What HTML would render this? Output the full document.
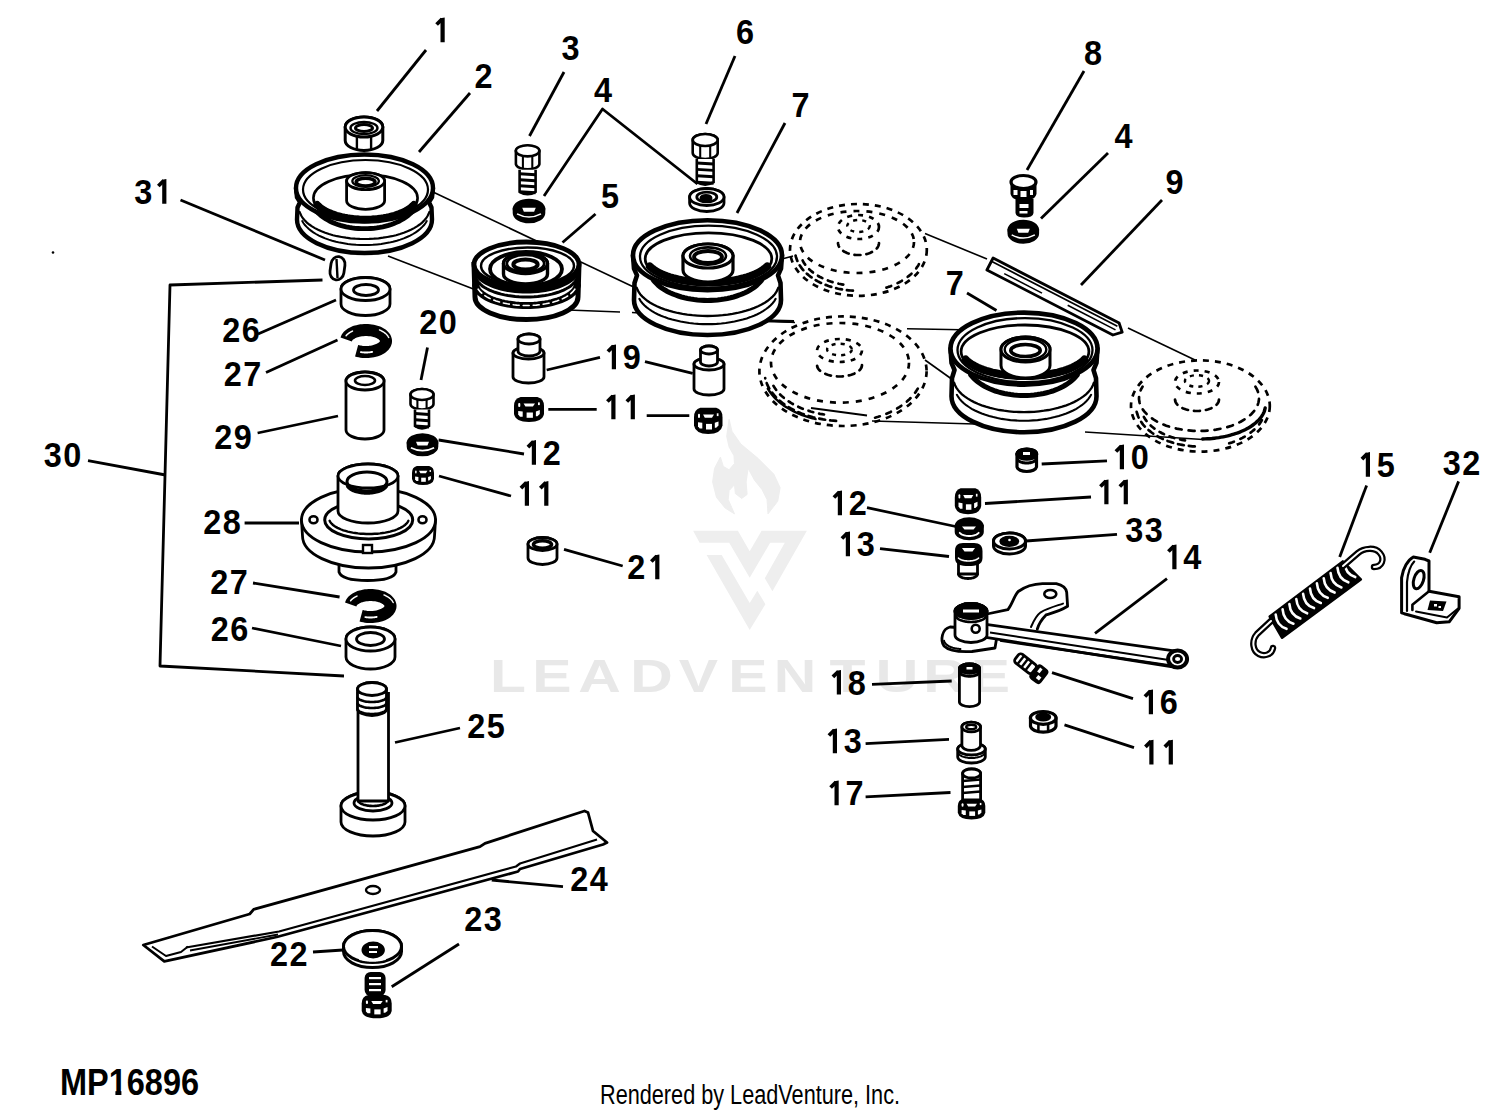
<!DOCTYPE html>
<html><head><meta charset="utf-8"><title>Mower deck parts diagram</title>
<style>
html,body{margin:0;padding:0;background:#fff;}
body{width:1500px;height:1112px;overflow:hidden;}
svg{display:block;font-family:"Liberation Sans",sans-serif;}
</style></head>
<body>
<svg width="1500" height="1112" viewBox="0 0 1500 1112">
<rect width="1500" height="1112" fill="#fff"/>
<text transform="translate(508.0,692.4) scale(1.28,1)" x="0" y="0" font-size="46" font-weight="bold" text-anchor="middle" fill="#e8e8e8">L</text>
<text transform="translate(551.8,692.4) scale(1.28,1)" x="0" y="0" font-size="46" font-weight="bold" text-anchor="middle" fill="#e8e8e8">E</text>
<text transform="translate(599.5,692.4) scale(1.28,1)" x="0" y="0" font-size="46" font-weight="bold" text-anchor="middle" fill="#e8e8e8">A</text>
<text transform="translate(651.6,692.4) scale(1.28,1)" x="0" y="0" font-size="46" font-weight="bold" text-anchor="middle" fill="#e8e8e8">D</text>
<text transform="translate(698.5,692.4) scale(1.28,1)" x="0" y="0" font-size="46" font-weight="bold" text-anchor="middle" fill="#e8e8e8">V</text>
<text transform="translate(748.0,692.4) scale(1.28,1)" x="0" y="0" font-size="46" font-weight="bold" text-anchor="middle" fill="#e8e8e8">E</text>
<text transform="translate(795.0,692.4) scale(1.28,1)" x="0" y="0" font-size="46" font-weight="bold" text-anchor="middle" fill="#e8e8e8">N</text>
<text transform="translate(847.5,692.4) scale(1.28,1)" x="0" y="0" font-size="46" font-weight="bold" text-anchor="middle" fill="#e8e8e8">T</text>
<text transform="translate(897.0,692.4) scale(1.28,1)" x="0" y="0" font-size="46" font-weight="bold" text-anchor="middle" fill="#e8e8e8">U</text>
<text transform="translate(944.5,692.4) scale(1.28,1)" x="0" y="0" font-size="46" font-weight="bold" text-anchor="middle" fill="#e8e8e8">R</text>
<text transform="translate(990.5,692.4) scale(1.28,1)" x="0" y="0" font-size="46" font-weight="bold" text-anchor="middle" fill="#e8e8e8">E</text>
<path d="M729.1,419.3 L732,431.4 L740.8,444 L758.3,458.6 L773.8,474.1 L780.1,487.7 L777.7,501.3 L768,513.9 L767,499.4 L762.1,489.7 L754.4,480 L748.1,468.3 L746.1,481.9 L747.1,494.5 L741.7,498.4 L735.4,493.6 L734.5,484.8 L729.1,490.6 L728.2,499.4 L734.5,513.9 L725.2,508.1 L716.5,497.4 L712.6,481.9 L714.6,468.3 L720.4,457.1 L723.3,466.4 L729.1,469.8 L734.5,463.5 L734,455.7 L729.1,447 L726.7,436.3 Z" fill="#eeeeee" stroke="#eeeeee" stroke-width="1" stroke-linejoin="round"/>
<path d="M693.1,530.8 L737.9,530.8 L749.7,551.3 L761.6,530.8 L806.9,530.8 L772.4,591.2 L764.8,578.3 L784.8,542.7 L770.2,542.7 L749.7,577.7 L729.2,542.7 L699.6,542.7 Z" fill="#eeeeee"/>
<path d="M706.6,555.1 L721.7,555.1 L749.7,603.1 L757.3,590.7 L765.4,604.2 L749.7,630 Z" fill="#eeeeee"/>
<line x1="433" y1="192" x2="640" y2="290" stroke="#000" stroke-width="1.6" />
<line x1="388" y1="256" x2="476" y2="290" stroke="#000" stroke-width="1.6" />
<line x1="568" y1="310" x2="620" y2="312" stroke="#000" stroke-width="1.6" />
<line x1="632" y1="312.5" x2="795" y2="322.5" stroke="#000" stroke-width="1.6" />
<line x1="907" y1="328.7" x2="975" y2="330" stroke="#000" stroke-width="1.6" />
<line x1="925" y1="233.6" x2="987" y2="259" stroke="#000" stroke-width="1.6" />
<line x1="1128" y1="328" x2="1195" y2="360" stroke="#000" stroke-width="1.6" />
<line x1="925" y1="360" x2="953" y2="380" stroke="#000" stroke-width="1.6" />
<line x1="872" y1="421" x2="975" y2="424" stroke="#000" stroke-width="1.6" />
<line x1="1085" y1="432" x2="1203" y2="439.5" stroke="#000" stroke-width="1.6" />
<line x1="782" y1="259" x2="793" y2="256" stroke="#000" stroke-width="1.6" />
<line x1="811" y1="408" x2="867" y2="415.5" stroke="#000" stroke-width="2" />
<line x1="760" y1="320.8" x2="794" y2="321.6" stroke="#000" stroke-width="3" />
<line x1="426" y1="50" x2="377" y2="111" stroke="#000" stroke-width="2.8" />
<line x1="470" y1="93" x2="419" y2="152" stroke="#000" stroke-width="2.8" />
<line x1="564" y1="72" x2="529.5" y2="136" stroke="#000" stroke-width="2.8" />
<path d="M544,196 L602.5,109 L697.5,184" fill="none" stroke="#000" stroke-width="2.8" stroke-linejoin="round" />
<line x1="735" y1="56" x2="706" y2="124" stroke="#000" stroke-width="2.8" />
<line x1="785" y1="123" x2="737" y2="213" stroke="#000" stroke-width="2.8" />
<line x1="1084" y1="71" x2="1027" y2="170" stroke="#000" stroke-width="2.8" />
<line x1="1108" y1="153" x2="1041" y2="218.5" stroke="#000" stroke-width="2.8" />
<line x1="1162" y1="200" x2="1081" y2="285" stroke="#000" stroke-width="2.8" />
<line x1="595.5" y1="214" x2="562.5" y2="242.5" stroke="#000" stroke-width="2.8" />
<line x1="180.5" y1="200" x2="325" y2="260" stroke="#000" stroke-width="2.8" />
<line x1="967" y1="293" x2="996.5" y2="310.5" stroke="#000" stroke-width="2.8" />
<line x1="258" y1="334" x2="336" y2="300" stroke="#000" stroke-width="2.8" />
<line x1="266" y1="372.5" x2="337.5" y2="340" stroke="#000" stroke-width="2.8" />
<line x1="427.5" y1="347.5" x2="421" y2="380" stroke="#000" stroke-width="2.8" />
<line x1="546.7" y1="370" x2="600" y2="357.3" stroke="#000" stroke-width="2.8" />
<line x1="645" y1="361.7" x2="692.7" y2="373.3" stroke="#000" stroke-width="2.8" />
<line x1="548.3" y1="409.3" x2="596.7" y2="409.3" stroke="#000" stroke-width="2.8" />
<line x1="646.7" y1="415.7" x2="689.3" y2="415.7" stroke="#000" stroke-width="2.8" />
<line x1="257.6" y1="433" x2="338" y2="416" stroke="#000" stroke-width="2.8" />
<line x1="438.6" y1="440" x2="524" y2="454" stroke="#000" stroke-width="2.8" />
<line x1="439" y1="476" x2="511" y2="496" stroke="#000" stroke-width="2.8" />
<line x1="88" y1="460.6" x2="165.5" y2="475" stroke="#000" stroke-width="2.8" />
<line x1="244.6" y1="523" x2="299" y2="523" stroke="#000" stroke-width="2.8" />
<line x1="564" y1="549.3" x2="622.7" y2="566" stroke="#000" stroke-width="2.8" />
<line x1="253" y1="583" x2="339.6" y2="597" stroke="#000" stroke-width="2.8" />
<line x1="252" y1="628" x2="341" y2="646" stroke="#000" stroke-width="2.8" />
<path d="M322.5,280 L170,285 L160,666 L344,676" fill="none" stroke="#000" stroke-width="2.8" stroke-linejoin="round" />
<line x1="1041.7" y1="464" x2="1107" y2="460.8" stroke="#000" stroke-width="2.8" />
<line x1="985" y1="503.5" x2="1091" y2="497" stroke="#000" stroke-width="2.8" />
<line x1="867" y1="507.7" x2="958" y2="527" stroke="#000" stroke-width="2.8" />
<line x1="880" y1="548.7" x2="949" y2="556.5" stroke="#000" stroke-width="2.8" />
<line x1="1026" y1="541" x2="1117" y2="534.3" stroke="#000" stroke-width="2.8" />
<line x1="1167" y1="578.7" x2="1095" y2="633.4" stroke="#000" stroke-width="2.8" />
<line x1="1366.6" y1="485.5" x2="1339.7" y2="557" stroke="#000" stroke-width="2.8" />
<line x1="1458.6" y1="481.4" x2="1429.7" y2="552.8" stroke="#000" stroke-width="2.8" />
<line x1="872" y1="684.3" x2="951.7" y2="681" stroke="#000" stroke-width="2.8" />
<line x1="1052" y1="672.6" x2="1133" y2="698.6" stroke="#000" stroke-width="2.8" />
<line x1="865.6" y1="743.6" x2="949" y2="739.3" stroke="#000" stroke-width="2.8" />
<line x1="865.6" y1="796.8" x2="950.5" y2="792.5" stroke="#000" stroke-width="2.8" />
<line x1="1064.5" y1="724.8" x2="1134" y2="747.6" stroke="#000" stroke-width="2.8" />
<line x1="395" y1="742.5" x2="460" y2="728" stroke="#000" stroke-width="2.8" />
<line x1="563" y1="886.7" x2="491.7" y2="880" stroke="#000" stroke-width="2.8" />
<line x1="459" y1="944" x2="391.7" y2="986.7" stroke="#000" stroke-width="2.8" />
<line x1="313" y1="952" x2="343" y2="950" stroke="#000" stroke-width="2.8" />
<path d="M440.5,18.3 L444.7,17.5 L444.7,42.2 L440.5,42.2 Z" fill="#000"/>
<path d="M442.1,19.1 L436.6,24.5" stroke="#000" stroke-width="3.8" stroke-linecap="butt" fill="none"/>
<text transform="translate(483.5,88.2) scale(0.94,1)" x="0" y="0" font-size="34.5" font-weight="bold" text-anchor="middle" fill="#000">2</text>
<text transform="translate(570.5,60.2) scale(0.94,1)" x="0" y="0" font-size="34.5" font-weight="bold" text-anchor="middle" fill="#000">3</text>
<text transform="translate(603,102.2) scale(0.94,1)" x="0" y="0" font-size="34.5" font-weight="bold" text-anchor="middle" fill="#000">4</text>
<text transform="translate(745,44.2) scale(0.94,1)" x="0" y="0" font-size="34.5" font-weight="bold" text-anchor="middle" fill="#000">6</text>
<text transform="translate(800.5,117.2) scale(0.94,1)" x="0" y="0" font-size="34.5" font-weight="bold" text-anchor="middle" fill="#000">7</text>
<text transform="translate(1093,65.2) scale(0.94,1)" x="0" y="0" font-size="34.5" font-weight="bold" text-anchor="middle" fill="#000">8</text>
<text transform="translate(1123.5,148.2) scale(0.94,1)" x="0" y="0" font-size="34.5" font-weight="bold" text-anchor="middle" fill="#000">4</text>
<text transform="translate(1174.5,194.2) scale(0.94,1)" x="0" y="0" font-size="34.5" font-weight="bold" text-anchor="middle" fill="#000">9</text>
<text transform="translate(610,208.2) scale(0.94,1)" x="0" y="0" font-size="34.5" font-weight="bold" text-anchor="middle" fill="#000">5</text>
<text transform="translate(143.3,203.7) scale(0.94,1)" x="0" y="0" font-size="34.5" font-weight="bold" text-anchor="middle" fill="#000">3</text>
<path d="M162.2,179.8 L166.4,179 L166.4,203.7 L162.2,203.7 Z" fill="#000"/>
<path d="M163.8,180.6 L158.3,186" stroke="#000" stroke-width="3.8" stroke-linecap="butt" fill="none"/>
<text transform="translate(954.7,294.7) scale(0.94,1)" x="0" y="0" font-size="34.5" font-weight="bold" text-anchor="middle" fill="#000">7</text>
<text transform="translate(231.3,342.2) scale(0.94,1)" x="0" y="0" font-size="34.5" font-weight="bold" text-anchor="middle" fill="#000">2</text>
<text transform="translate(250.7,342.2) scale(0.94,1)" x="0" y="0" font-size="34.5" font-weight="bold" text-anchor="middle" fill="#000">6</text>
<text transform="translate(232.8,386.2) scale(0.94,1)" x="0" y="0" font-size="34.5" font-weight="bold" text-anchor="middle" fill="#000">2</text>
<text transform="translate(252.2,386.2) scale(0.94,1)" x="0" y="0" font-size="34.5" font-weight="bold" text-anchor="middle" fill="#000">7</text>
<text transform="translate(428.3,333.7) scale(0.94,1)" x="0" y="0" font-size="34.5" font-weight="bold" text-anchor="middle" fill="#000">2</text>
<text transform="translate(447.7,333.7) scale(0.94,1)" x="0" y="0" font-size="34.5" font-weight="bold" text-anchor="middle" fill="#000">0</text>
<path d="M611.8,345.3 L616,344.5 L616,369.2 L611.8,369.2 Z" fill="#000"/>
<path d="M613.4,346.1 L607.9,351.5" stroke="#000" stroke-width="3.8" stroke-linecap="butt" fill="none"/>
<text transform="translate(631.7,369.2) scale(0.94,1)" x="0" y="0" font-size="34.5" font-weight="bold" text-anchor="middle" fill="#000">9</text>
<path d="M611.3,395.3 L615.5,394.5 L615.5,419.2 L611.3,419.2 Z" fill="#000"/>
<path d="M612.9,396.1 L607.4,401.5" stroke="#000" stroke-width="3.8" stroke-linecap="butt" fill="none"/>
<path d="M630.7,395.3 L634.9,394.5 L634.9,419.2 L630.7,419.2 Z" fill="#000"/>
<path d="M632.3,396.1 L626.8,401.5" stroke="#000" stroke-width="3.8" stroke-linecap="butt" fill="none"/>
<text transform="translate(223.3,448.8) scale(0.94,1)" x="0" y="0" font-size="34.5" font-weight="bold" text-anchor="middle" fill="#000">2</text>
<text transform="translate(242.7,448.8) scale(0.94,1)" x="0" y="0" font-size="34.5" font-weight="bold" text-anchor="middle" fill="#000">9</text>
<path d="M531.8,440.9 L536,440.1 L536,464.8 L531.8,464.8 Z" fill="#000"/>
<path d="M533.4,441.7 L527.9,447.1" stroke="#000" stroke-width="3.8" stroke-linecap="butt" fill="none"/>
<text transform="translate(551.7,464.8) scale(0.94,1)" x="0" y="0" font-size="34.5" font-weight="bold" text-anchor="middle" fill="#000">2</text>
<path d="M524.8,481.9 L529,481.1 L529,505.8 L524.8,505.8 Z" fill="#000"/>
<path d="M526.4,482.7 L520.9,488.1" stroke="#000" stroke-width="3.8" stroke-linecap="butt" fill="none"/>
<path d="M544.2,481.9 L548.4,481.1 L548.4,505.8 L544.2,505.8 Z" fill="#000"/>
<path d="M545.8,482.7 L540.3,488.1" stroke="#000" stroke-width="3.8" stroke-linecap="butt" fill="none"/>
<text transform="translate(52.8,467.2) scale(0.94,1)" x="0" y="0" font-size="34.5" font-weight="bold" text-anchor="middle" fill="#000">3</text>
<text transform="translate(72.2,467.2) scale(0.94,1)" x="0" y="0" font-size="34.5" font-weight="bold" text-anchor="middle" fill="#000">0</text>
<path d="M1119.8,445.3 L1124,444.5 L1124,469.2 L1119.8,469.2 Z" fill="#000"/>
<path d="M1121.4,446.1 L1115.9,451.5" stroke="#000" stroke-width="3.8" stroke-linecap="butt" fill="none"/>
<text transform="translate(1139.7,469.2) scale(0.94,1)" x="0" y="0" font-size="34.5" font-weight="bold" text-anchor="middle" fill="#000">0</text>
<path d="M1104.3,480.3 L1108.5,479.5 L1108.5,504.2 L1104.3,504.2 Z" fill="#000"/>
<path d="M1105.9,481.1 L1100.4,486.5" stroke="#000" stroke-width="3.8" stroke-linecap="butt" fill="none"/>
<path d="M1123.7,480.3 L1127.9,479.5 L1127.9,504.2 L1123.7,504.2 Z" fill="#000"/>
<path d="M1125.3,481.1 L1119.8,486.5" stroke="#000" stroke-width="3.8" stroke-linecap="butt" fill="none"/>
<path d="M837.8,491.3 L842,490.5 L842,515.2 L837.8,515.2 Z" fill="#000"/>
<path d="M839.4,492.1 L833.9,497.5" stroke="#000" stroke-width="3.8" stroke-linecap="butt" fill="none"/>
<text transform="translate(857.7,515.2) scale(0.94,1)" x="0" y="0" font-size="34.5" font-weight="bold" text-anchor="middle" fill="#000">2</text>
<text transform="translate(1134.3,542.2) scale(0.94,1)" x="0" y="0" font-size="34.5" font-weight="bold" text-anchor="middle" fill="#000">3</text>
<text transform="translate(1153.7,542.2) scale(0.94,1)" x="0" y="0" font-size="34.5" font-weight="bold" text-anchor="middle" fill="#000">3</text>
<path d="M845.8,532.3 L850,531.5 L850,556.2 L845.8,556.2 Z" fill="#000"/>
<path d="M847.4,533.1 L841.9,538.5" stroke="#000" stroke-width="3.8" stroke-linecap="butt" fill="none"/>
<text transform="translate(865.7,556.2) scale(0.94,1)" x="0" y="0" font-size="34.5" font-weight="bold" text-anchor="middle" fill="#000">3</text>
<path d="M1172.3,545.3 L1176.5,544.5 L1176.5,569.2 L1172.3,569.2 Z" fill="#000"/>
<path d="M1173.9,546.1 L1168.4,551.5" stroke="#000" stroke-width="3.8" stroke-linecap="butt" fill="none"/>
<text transform="translate(1192.2,569.2) scale(0.94,1)" x="0" y="0" font-size="34.5" font-weight="bold" text-anchor="middle" fill="#000">4</text>
<path d="M1365.8,452.9 L1370,452.1 L1370,476.8 L1365.8,476.8 Z" fill="#000"/>
<path d="M1367.4,453.7 L1361.9,459.1" stroke="#000" stroke-width="3.8" stroke-linecap="butt" fill="none"/>
<text transform="translate(1385.7,476.8) scale(0.94,1)" x="0" y="0" font-size="34.5" font-weight="bold" text-anchor="middle" fill="#000">5</text>
<text transform="translate(1451.8,475.2) scale(0.94,1)" x="0" y="0" font-size="34.5" font-weight="bold" text-anchor="middle" fill="#000">3</text>
<text transform="translate(1471.2,475.2) scale(0.94,1)" x="0" y="0" font-size="34.5" font-weight="bold" text-anchor="middle" fill="#000">2</text>
<text transform="translate(212.3,533.7) scale(0.94,1)" x="0" y="0" font-size="34.5" font-weight="bold" text-anchor="middle" fill="#000">2</text>
<text transform="translate(231.7,533.7) scale(0.94,1)" x="0" y="0" font-size="34.5" font-weight="bold" text-anchor="middle" fill="#000">8</text>
<text transform="translate(636.3,579.2) scale(0.94,1)" x="0" y="0" font-size="34.5" font-weight="bold" text-anchor="middle" fill="#000">2</text>
<path d="M655.2,555.3 L659.4,554.5 L659.4,579.2 L655.2,579.2 Z" fill="#000"/>
<path d="M656.8,556.1 L651.3,561.5" stroke="#000" stroke-width="3.8" stroke-linecap="butt" fill="none"/>
<text transform="translate(219.3,594.2) scale(0.94,1)" x="0" y="0" font-size="34.5" font-weight="bold" text-anchor="middle" fill="#000">2</text>
<text transform="translate(238.7,594.2) scale(0.94,1)" x="0" y="0" font-size="34.5" font-weight="bold" text-anchor="middle" fill="#000">7</text>
<text transform="translate(219.8,641.2) scale(0.94,1)" x="0" y="0" font-size="34.5" font-weight="bold" text-anchor="middle" fill="#000">2</text>
<text transform="translate(239.2,641.2) scale(0.94,1)" x="0" y="0" font-size="34.5" font-weight="bold" text-anchor="middle" fill="#000">6</text>
<path d="M836.8,670.7 L841,669.9 L841,694.6 L836.8,694.6 Z" fill="#000"/>
<path d="M838.4,671.5 L832.9,676.9" stroke="#000" stroke-width="3.8" stroke-linecap="butt" fill="none"/>
<text transform="translate(856.7,694.6) scale(0.94,1)" x="0" y="0" font-size="34.5" font-weight="bold" text-anchor="middle" fill="#000">8</text>
<path d="M1148.8,690.3 L1153,689.5 L1153,714.2 L1148.8,714.2 Z" fill="#000"/>
<path d="M1150.4,691.1 L1144.9,696.5" stroke="#000" stroke-width="3.8" stroke-linecap="butt" fill="none"/>
<text transform="translate(1168.7,714.2) scale(0.94,1)" x="0" y="0" font-size="34.5" font-weight="bold" text-anchor="middle" fill="#000">6</text>
<text transform="translate(476.3,738.2) scale(0.94,1)" x="0" y="0" font-size="34.5" font-weight="bold" text-anchor="middle" fill="#000">2</text>
<text transform="translate(495.7,738.2) scale(0.94,1)" x="0" y="0" font-size="34.5" font-weight="bold" text-anchor="middle" fill="#000">5</text>
<path d="M832.8,729.3 L837,728.5 L837,753.2 L832.8,753.2 Z" fill="#000"/>
<path d="M834.4,730.1 L828.9,735.5" stroke="#000" stroke-width="3.8" stroke-linecap="butt" fill="none"/>
<text transform="translate(852.7,753.2) scale(0.94,1)" x="0" y="0" font-size="34.5" font-weight="bold" text-anchor="middle" fill="#000">3</text>
<path d="M1149.3,740.6 L1153.5,739.8 L1153.5,764.5 L1149.3,764.5 Z" fill="#000"/>
<path d="M1150.9,741.4 L1145.4,746.8" stroke="#000" stroke-width="3.8" stroke-linecap="butt" fill="none"/>
<path d="M1168.7,740.6 L1172.9,739.8 L1172.9,764.5 L1168.7,764.5 Z" fill="#000"/>
<path d="M1170.3,741.4 L1164.8,746.8" stroke="#000" stroke-width="3.8" stroke-linecap="butt" fill="none"/>
<path d="M834.5,781.3 L838.7,780.5 L838.7,805.2 L834.5,805.2 Z" fill="#000"/>
<path d="M836.1,782.1 L830.6,787.5" stroke="#000" stroke-width="3.8" stroke-linecap="butt" fill="none"/>
<text transform="translate(854.4,805.2) scale(0.94,1)" x="0" y="0" font-size="34.5" font-weight="bold" text-anchor="middle" fill="#000">7</text>
<text transform="translate(579.3,891.2) scale(0.94,1)" x="0" y="0" font-size="34.5" font-weight="bold" text-anchor="middle" fill="#000">2</text>
<text transform="translate(598.7,891.2) scale(0.94,1)" x="0" y="0" font-size="34.5" font-weight="bold" text-anchor="middle" fill="#000">4</text>
<text transform="translate(473.3,931.2) scale(0.94,1)" x="0" y="0" font-size="34.5" font-weight="bold" text-anchor="middle" fill="#000">2</text>
<text transform="translate(492.7,931.2) scale(0.94,1)" x="0" y="0" font-size="34.5" font-weight="bold" text-anchor="middle" fill="#000">3</text>
<text transform="translate(279,966.2) scale(0.94,1)" x="0" y="0" font-size="34.5" font-weight="bold" text-anchor="middle" fill="#000">2</text>
<text transform="translate(298.4,966.2) scale(0.94,1)" x="0" y="0" font-size="34.5" font-weight="bold" text-anchor="middle" fill="#000">2</text>
<text x="60" y="1095.3" font-size="36" text-anchor="start" font-weight="bold" fill="#000" textLength="139" lengthAdjust="spacingAndGlyphs">MP16896</text>
<rect x="108.5" y="1089.5" width="6.9" height="7" fill="#fff"/><rect x="121.4" y="1089.5" width="6.5" height="7" fill="#fff"/>
<text x="600" y="1103.5" font-size="27" text-anchor="start" font-weight="normal" fill="#000" textLength="300" lengthAdjust="spacingAndGlyphs">Rendered by LeadVenture, Inc.</text>
<path d="M296,188 L297,197.4 L300,202.2 L297.5,207.5 L297,219.5 A67.5,33.5 0 0 0 432,219.5 L431.5,207.5 L429,202.2 L432,197.4 L433,188 Z" fill="#fff" stroke="#000" stroke-width="4.4" stroke-linejoin="round"/>
<path d="M426.8,221 L425.6,223 L424.1,225 L422.3,226.9 L420.4,228.8 L418.1,230.6 L415.7,232.4 L413,234 L410.1,235.6 L407,237 L403.8,238.4 L400.3,239.6 L396.8,240.7 L393,241.7 L389.2,242.6 L385.2,243.3 L381.2,244 L377.1,244.4 L372.9,244.8 L368.7,245 L364.5,245.1 L360.3,245 L356.1,244.8 L351.9,244.4 L347.8,244 L343.8,243.3 L339.8,242.6 L336,241.7 L332.2,240.7 L328.7,239.6 L325.2,238.4 L322,237 L318.9,235.6 L316,234 L313.3,232.4 L310.9,230.6 L308.6,228.8 L306.7,226.9 L304.9,225 L303.4,223 L302.2,221" fill="none" stroke="#000" stroke-width="1.9800000000000002" stroke-linecap="round"/>
<path d="M429.4,211.9 L428.5,214.1 L427.4,216.3 L425.9,218.5 L424.1,220.5 L422.1,222.6 L419.7,224.5 L417,226.4 L414.1,228.1 L410.9,229.8 L407.5,231.3 L403.8,232.7 L400,234 L396,235.2 L391.8,236.2 L387.4,237 L383,237.7 L378.5,238.3 L373.8,238.7 L369.2,238.9 L364.5,239 L359.8,238.9 L355.2,238.7 L350.5,238.3 L346,237.7 L341.6,237 L337.2,236.2 L333,235.2 L329,234 L325.2,232.7 L321.5,231.3 L318.1,229.8 L314.9,228.1 L312,226.4 L309.3,224.5 L306.9,222.6 L304.9,220.5 L303.1,218.5 L301.6,216.3 L300.5,214.1 L299.6,211.9" fill="none" stroke="#000" stroke-width="2.2" stroke-linecap="round"/>
<path d="M414.2,209.4 L412.8,211.1 L411.2,212.7 L409.5,214.3 L407.7,215.9 L405.7,217.3 L403.6,218.7 L401.3,220 L399,221.3 L396.5,222.4 L393.9,223.5 L391.3,224.5 L388.5,225.4 L385.7,226.1 L382.8,226.8 L379.8,227.4 L376.8,227.9 L373.8,228.3 L370.7,228.5 L367.6,228.7 L364.5,228.7 L361.4,228.7 L358.3,228.5 L355.2,228.3 L352.2,227.9 L349.2,227.4 L346.2,226.8 L343.3,226.1 L340.5,225.4 L337.7,224.5 L335.1,223.5 L332.5,222.4 L330,221.3 L327.7,220 L325.4,218.7 L323.3,217.3 L321.3,215.9 L319.5,214.3 L317.8,212.7 L316.2,211.1 L314.8,209.4" fill="none" stroke="#000" stroke-width="4.840000000000001" stroke-linecap="round"/>
<ellipse cx="364.5" cy="188" rx="68.5" ry="33.5" fill="#fff" stroke="#000" stroke-width="4.4" />
<ellipse cx="365.5" cy="189.5" rx="62.5" ry="29.5" fill="none" stroke="#000" stroke-width="2.2" />
<ellipse cx="365.5" cy="198" rx="52.1" ry="23.4" fill="none" stroke="#000" stroke-width="2.64" />
<path d="M413.8,204.8 L412.5,206.1 L411.1,207.3 L409.6,208.5 L407.8,209.7 L406,210.8 L403.9,211.8 L401.8,212.8 L399.5,213.8 L397.1,214.6 L394.6,215.5 L392,216.2 L389.3,216.9 L386.5,217.5 L383.6,218 L380.7,218.4 L377.7,218.8 L374.7,219.1 L371.7,219.3 L368.6,219.4 L365.5,219.5 L362.4,219.4 L359.3,219.3 L356.3,219.1 L353.3,218.8 L350.3,218.4 L347.4,218 L344.5,217.5 L341.7,216.9 L339,216.2 L336.4,215.5 L333.9,214.6 L331.5,213.8 L329.2,212.8 L327.1,211.8 L325,210.8 L323.2,209.7 L321.4,208.5 L319.9,207.3 L318.5,206.1 L317.2,204.8" fill="none" stroke="#000" stroke-width="7.48" stroke-linecap="round"/>
<path d="M346.6,181.1 L346.6,200.8 A19,8.5 0 0 0 384.6,200.8 L384.6,181.1 A19,8.5 0 0 0 346.6,181.1 Z" fill="#fff" stroke="#000" stroke-width="2.8" stroke-linejoin="round"/>
<ellipse cx="365.6" cy="181.1" rx="19" ry="8.5" fill="#fff" stroke="#000" stroke-width="2.8" />
<ellipse cx="365.6" cy="181.1" rx="13.3" ry="5.9" fill="none" stroke="#000" stroke-width="2.2399999999999998" />
<ellipse cx="365.6" cy="182.1" rx="9.5" ry="3.8" fill="none" stroke="#000" stroke-width="3.36" />
<path d="M474,264.5 L475,297.1 A51.5,22.5 0 0 0 578,297.1 L579,264.5 Z" fill="#fff" stroke="#000" stroke-width="5"/>
<path d="M577.3,276.9 L576.8,278.5 L576.1,280.1 L575.1,281.7 L573.8,283.2 L572.2,284.7 L570.4,286.2 L568.4,287.5 L566.1,288.8 L563.6,290.1 L561,291.2 L558.1,292.3 L555,293.2 L551.8,294.1 L548.5,294.9 L545,295.5 L541.4,296 L537.8,296.5 L534,296.8 L530.3,296.9 L526.5,297 L522.7,296.9 L519,296.8 L515.2,296.5 L511.6,296 L508,295.5 L504.5,294.9 L501.2,294.1 L498,293.2 L494.9,292.3 L492,291.2 L489.4,290.1 L486.9,288.8 L484.6,287.5 L482.6,286.2 L480.8,284.7 L479.2,283.2 L477.9,281.7 L476.9,280.1 L476.2,278.5 L475.7,276.9" fill="none" stroke="#000" stroke-width="3" stroke-linecap="round"/>
<path d="M577.3,285.4 L576.8,287 L576.1,288.6 L575.1,290.2 L573.8,291.7 L572.2,293.2 L570.4,294.7 L568.4,296 L566.1,297.3 L563.6,298.6 L561,299.7 L558.1,300.8 L555,301.7 L551.8,302.6 L548.5,303.4 L545,304 L541.4,304.5 L537.8,305 L534,305.3 L530.3,305.4 L526.5,305.5 L522.7,305.4 L519,305.3 L515.2,305 L511.6,304.5 L508,304 L504.5,303.4 L501.2,302.6 L498,301.7 L494.9,300.8 L492,299.7 L489.4,298.6 L486.9,297.3 L484.6,296 L482.6,294.7 L480.8,293.2 L479.2,291.7 L477.9,290.2 L476.9,288.6 L476.2,287 L475.7,285.4" fill="none" stroke="#000" stroke-width="7" stroke-linecap="round"/>
<path d="M574.8,289.2 L573.8,290.6 L572.7,291.9 L571.3,293.2 L569.8,294.5 L568.1,295.7 L566.2,296.9 L564.1,298 L561.9,299.1 L559.5,300 L556.9,301 L554.3,301.8 L551.5,302.6 L548.6,303.2 L545.6,303.8 L542.6,304.3 L539.4,304.8 L536.3,305.1 L533,305.3 L529.8,305.5 L526.5,305.5 L523.2,305.5 L520,305.3 L516.7,305.1 L513.6,304.8 L510.4,304.3 L507.4,303.8 L504.4,303.2 L501.5,302.6 L498.7,301.8 L496.1,301 L493.5,300 L491.1,299.1 L488.9,298 L486.8,296.9 L484.9,295.7 L483.2,294.5 L481.7,293.2 L480.3,291.9 L479.2,290.6 L478.2,289.2" fill="none" stroke="#fff" stroke-width="1.6" stroke-linecap="round" stroke-dasharray="6 4"/>
<path d="M577.3,270 L576.8,271.6 L576.1,273.3 L575.1,274.9 L573.8,276.4 L572.2,278 L570.4,279.4 L568.4,280.8 L566.1,282.2 L563.6,283.4 L561,284.6 L558.1,285.7 L555,286.7 L551.8,287.5 L548.5,288.3 L545,289 L541.4,289.5 L537.8,289.9 L534,290.3 L530.3,290.4 L526.5,290.5 L522.7,290.4 L519,290.3 L515.2,289.9 L511.6,289.5 L508,289 L504.5,288.3 L501.2,287.5 L498,286.7 L494.9,285.7 L492,284.6 L489.4,283.4 L486.9,282.2 L484.6,280.8 L482.6,279.4 L480.8,278 L479.2,276.4 L477.9,274.9 L476.9,273.3 L476.2,271.6 L475.7,270" fill="none" stroke="#000" stroke-width="6" stroke-linecap="round"/>
<ellipse cx="526.5" cy="264.5" rx="52.5" ry="22.5" fill="#fff" stroke="#000" stroke-width="4.8" />
<ellipse cx="527.5" cy="266" rx="46.5" ry="18.5" fill="none" stroke="#000" stroke-width="2.4" />
<ellipse cx="526" cy="269" rx="36" ry="17" fill="none" stroke="#000" stroke-width="3.8" />
<path d="M503.5,263.5 L503.5,274 A22,10 0 0 0 547.5,274 L547.5,263.5 A22,10 0 0 0 503.5,263.5 Z" fill="#fff" stroke="#000" stroke-width="3.4" stroke-linejoin="round"/>
<ellipse cx="525.5" cy="263.5" rx="22" ry="10" fill="#fff" stroke="#000" stroke-width="3.4" />
<ellipse cx="525.5" cy="263.5" rx="18.7" ry="8.5" fill="none" stroke="#000" stroke-width="2.72" />
<ellipse cx="525.5" cy="264.5" rx="12.1" ry="5" fill="none" stroke="#000" stroke-width="4.08" />
<path d="M633,255.2 L634,268.6 L637,275.4 L634.5,283 L634,300 A73.5,35 0 0 0 781,300 L780.5,283 L778,275.4 L781,268.6 L782,255.2 Z" fill="#fff" stroke="#000" stroke-width="4.6" stroke-linejoin="round"/>
<path d="M775.6,298.9 L774.3,301.1 L772.6,303.2 L770.7,305.2 L768.6,307.1 L766.1,309 L763.4,310.8 L760.5,312.6 L757.4,314.2 L754,315.7 L750.4,317.1 L746.7,318.4 L742.8,319.6 L738.7,320.6 L734.5,321.6 L730.2,322.3 L725.7,323 L721.3,323.5 L716.7,323.9 L712.1,324.1 L707.5,324.1 L702.9,324.1 L698.3,323.9 L693.7,323.5 L689.3,323 L684.8,322.3 L680.5,321.6 L676.3,320.6 L672.2,319.6 L668.3,318.4 L664.6,317.1 L661,315.7 L657.6,314.2 L654.5,312.6 L651.6,310.8 L648.9,309 L646.4,307.1 L644.3,305.2 L642.4,303.2 L640.7,301.1 L639.4,298.9" fill="none" stroke="#000" stroke-width="2.07" stroke-linecap="round"/>
<path d="M778.3,287.6 L777.4,289.9 L776.2,292.2 L774.6,294.4 L772.6,296.6 L770.3,298.7 L767.7,300.8 L764.8,302.7 L761.6,304.5 L758.1,306.3 L754.4,307.9 L750.4,309.4 L746.2,310.7 L741.8,311.9 L737.3,313 L732.5,313.9 L727.7,314.6 L722.7,315.2 L717.7,315.6 L712.6,315.9 L707.5,316 L702.4,315.9 L697.3,315.6 L692.3,315.2 L687.3,314.6 L682.5,313.9 L677.7,313 L673.2,311.9 L668.8,310.7 L664.6,309.4 L660.6,307.9 L656.9,306.3 L653.4,304.5 L650.2,302.7 L647.3,300.8 L644.7,298.7 L642.4,296.6 L640.4,294.4 L638.8,292.2 L637.6,289.9 L636.7,287.6" fill="none" stroke="#000" stroke-width="2.3" stroke-linecap="round"/>
<path d="M761.5,280.3 L760,282.1 L758.3,283.8 L756.5,285.5 L754.5,287.1 L752.3,288.6 L750,290 L747.6,291.4 L745,292.7 L742.3,293.9 L739.5,295 L736.6,296 L733.6,297 L730.5,297.8 L727.4,298.5 L724.2,299.1 L720.9,299.6 L717.6,300 L714.2,300.3 L710.9,300.4 L707.5,300.5 L704.1,300.4 L700.8,300.3 L697.4,300 L694.1,299.6 L690.8,299.1 L687.6,298.5 L684.5,297.8 L681.4,297 L678.4,296 L675.5,295 L672.7,293.9 L670,292.7 L667.4,291.4 L665,290 L662.7,288.6 L660.5,287.1 L658.5,285.5 L656.7,283.8 L655,282.1 L653.5,280.3" fill="none" stroke="#000" stroke-width="5.06" stroke-linecap="round"/>
<ellipse cx="707.5" cy="255.2" rx="74.5" ry="35" fill="#fff" stroke="#000" stroke-width="4.6" />
<ellipse cx="708.5" cy="256.7" rx="68.5" ry="31" fill="none" stroke="#000" stroke-width="2.3" />
<ellipse cx="708.5" cy="258.7" rx="63.3" ry="25.9" fill="none" stroke="#000" stroke-width="2.76" />
<path d="M767.2,266.3 L765.7,267.7 L764,269.1 L762.1,270.4 L760,271.7 L757.7,272.9 L755.3,274.1 L752.6,275.2 L749.9,276.2 L747,277.2 L743.9,278.1 L740.7,278.9 L737.4,279.7 L734.1,280.3 L730.6,280.9 L727,281.4 L723.4,281.8 L719.7,282.1 L716,282.3 L712.3,282.5 L708.5,282.5 L704.7,282.5 L701,282.3 L697.3,282.1 L693.6,281.8 L690,281.4 L686.4,280.9 L682.9,280.3 L679.6,279.7 L676.3,278.9 L673.1,278.1 L670,277.2 L667.1,276.2 L664.4,275.2 L661.7,274.1 L659.3,272.9 L657,271.7 L654.9,270.4 L653,269.1 L651.3,267.7 L649.8,266.3" fill="none" stroke="#000" stroke-width="7.819999999999999" stroke-linecap="round"/>
<path d="M683,256 L683,270 A25,12 0 0 0 733,270 L733,256 A25,12 0 0 0 683,256 Z" fill="#fff" stroke="#000" stroke-width="3.2" stroke-linejoin="round"/>
<ellipse cx="708" cy="256" rx="25" ry="12" fill="#fff" stroke="#000" stroke-width="3.2" />
<ellipse cx="708" cy="256" rx="18" ry="8.6" fill="none" stroke="#000" stroke-width="2.5600000000000005" />
<ellipse cx="708" cy="257" rx="14" ry="6" fill="none" stroke="#000" stroke-width="3.84" />
<path d="M950.5,348.6 L951.5,362.9 L954.5,370 L952,378.1 L951.5,396.2 A72.5,36 0 0 0 1096.5,396.2 L1096,378.1 L1093.5,370 L1096.5,362.9 L1097.5,348.6 Z" fill="#fff" stroke="#000" stroke-width="4.6" stroke-linejoin="round"/>
<path d="M1091.1,394.8 L1089.8,397 L1088.2,399.1 L1086.3,401.2 L1084.2,403.2 L1081.8,405.2 L1079.1,407 L1076.3,408.8 L1073.1,410.5 L1069.8,412 L1066.3,413.5 L1062.6,414.8 L1058.8,416 L1054.7,417.1 L1050.6,418.1 L1046.3,418.9 L1042,419.5 L1037.6,420.1 L1033.1,420.4 L1028.5,420.7 L1024,420.7 L1019.5,420.7 L1014.9,420.4 L1010.4,420.1 L1006,419.5 L1001.7,418.9 L997.4,418.1 L993.3,417.1 L989.2,416 L985.4,414.8 L981.7,413.5 L978.2,412 L974.9,410.5 L971.7,408.8 L968.9,407 L966.2,405.2 L963.8,403.2 L961.7,401.2 L959.8,399.1 L958.2,397 L956.9,394.8" fill="none" stroke="#000" stroke-width="2.07" stroke-linecap="round"/>
<path d="M1093.8,382.8 L1092.9,385.2 L1091.7,387.6 L1090.1,389.9 L1088.2,392.2 L1086,394.3 L1083.4,396.4 L1080.5,398.4 L1077.4,400.3 L1073.9,402.1 L1070.3,403.8 L1066.3,405.3 L1062.2,406.7 L1057.9,407.9 L1053.3,409 L1048.7,410 L1043.9,410.7 L1039,411.3 L1034.1,411.8 L1029,412 L1024,412.1 L1019,412 L1013.9,411.8 L1009,411.3 L1004.1,410.7 L999.3,410 L994.7,409 L990.1,407.9 L985.8,406.7 L981.7,405.3 L977.7,403.8 L974.1,402.1 L970.6,400.3 L967.5,398.4 L964.6,396.4 L962,394.3 L959.8,392.2 L957.9,389.9 L956.3,387.6 L955.1,385.2 L954.2,382.8" fill="none" stroke="#000" stroke-width="2.3" stroke-linecap="round"/>
<path d="M1077.3,374.8 L1075.8,376.6 L1074.1,378.4 L1072.3,380.1 L1070.3,381.7 L1068.2,383.3 L1065.9,384.8 L1063.5,386.2 L1061,387.5 L1058.4,388.8 L1055.6,389.9 L1052.7,391 L1049.8,391.9 L1046.7,392.7 L1043.6,393.5 L1040.5,394.1 L1037.2,394.6 L1034,395 L1030.7,395.3 L1027.3,395.5 L1024,395.5 L1020.7,395.5 L1017.3,395.3 L1014,395 L1010.8,394.6 L1007.5,394.1 L1004.4,393.5 L1001.3,392.7 L998.2,391.9 L995.3,391 L992.4,389.9 L989.6,388.8 L987,387.5 L984.5,386.2 L982.1,384.8 L979.8,383.3 L977.7,381.7 L975.7,380.1 L973.9,378.4 L972.2,376.6 L970.7,374.8" fill="none" stroke="#000" stroke-width="5.06" stroke-linecap="round"/>
<ellipse cx="1024" cy="348.6" rx="73.5" ry="36" fill="#fff" stroke="#000" stroke-width="4.6" />
<ellipse cx="1025" cy="350.1" rx="67.5" ry="32" fill="none" stroke="#000" stroke-width="2.3" />
<ellipse cx="1025" cy="351.6" rx="63.9" ry="26.6" fill="none" stroke="#000" stroke-width="2.76" />
<path d="M1084.3,359.5 L1082.8,361 L1081,362.4 L1079.1,363.7 L1077,365 L1074.7,366.3 L1072.2,367.5 L1069.6,368.6 L1066.8,369.7 L1063.8,370.7 L1060.8,371.6 L1057.6,372.5 L1054.2,373.2 L1050.8,373.9 L1047.3,374.5 L1043.7,375 L1040,375.4 L1036.3,375.7 L1032.6,376 L1028.8,376.1 L1025,376.2 L1021.2,376.1 L1017.4,376 L1013.7,375.7 L1010,375.4 L1006.3,375 L1002.7,374.5 L999.2,373.9 L995.8,373.2 L992.4,372.5 L989.2,371.6 L986.2,370.7 L983.2,369.7 L980.4,368.6 L977.8,367.5 L975.3,366.3 L973,365 L970.9,363.7 L969,362.4 L967.2,361 L965.7,359.5" fill="none" stroke="#000" stroke-width="7.819999999999999" stroke-linecap="round"/>
<path d="M1001,349.5 L1001,365.5 A24.5,12.5 0 0 0 1050,365.5 L1050,349.5 A24.5,12.5 0 0 0 1001,349.5 Z" fill="#fff" stroke="#000" stroke-width="3" stroke-linejoin="round"/>
<ellipse cx="1025.5" cy="349.5" rx="24.5" ry="12.5" fill="#fff" stroke="#000" stroke-width="3" />
<ellipse cx="1025.5" cy="349.5" rx="20.8" ry="10.6" fill="none" stroke="#000" stroke-width="2.4000000000000004" />
<ellipse cx="1025.5" cy="350.5" rx="14.7" ry="6" fill="none" stroke="#000" stroke-width="3.5999999999999996" />
<ellipse cx="858.4" cy="249.9" rx="68.4" ry="45.9" fill="none" stroke="#000" stroke-width="2.7" stroke-dasharray="6 6" />
<ellipse cx="857" cy="242" rx="57" ry="31" fill="none" stroke="#000" stroke-width="2.7" stroke-dasharray="6 7" />
<path d="M852.9,290.6 L850.8,290.5 L848.6,290.3 L846.5,290.1 L844.5,289.8 L842.4,289.5 L840.3,289.1 L838.3,288.7 L836.3,288.2 L834.3,287.7 L832.4,287.2 L830.4,286.6 L828.5,286 L826.7,285.3 L824.9,284.6 L823.1,283.9 L821.3,283.1 L819.6,282.3 L817.9,281.4 L816.3,280.5 L814.8,279.6 L813.2,278.6 L811.8,277.6 L810.4,276.6 L809,275.5 L807.7,274.4 L806.4,273.3 L805.2,272.2 L804.1,271 L803,269.8 L802,268.6 L801.1,267.4 L800.2,266.1 L799.4,264.9 L798.7,263.6 L798,262.3 L797.4,261 L796.8,259.6 L796.4,258.3 L795.9,256.9 L795.6,255.6" fill="none" stroke="#000" stroke-width="2.7" stroke-linecap="round" stroke-dasharray="6 5"/>
<path d="M843.3,284.6 L841.7,284.3 L840.2,284 L838.7,283.7 L837.2,283.3 L835.7,283 L834.2,282.6 L832.8,282.2 L831.3,281.7 L829.9,281.2 L828.5,280.8 L827.2,280.2 L825.8,279.7 L824.5,279.1 L823.2,278.6 L821.9,277.9 L820.7,277.3 L819.5,276.7 L818.3,276 L817.2,275.3 L816,274.6 L814.9,273.9 L813.9,273.1 L812.9,272.4 L811.9,271.6 L810.9,270.8 L810,270 L809.1,269.2 L808.3,268.3 L807.5,267.5 L806.7,266.6 L806,265.7 L805.3,264.8 L804.7,263.9 L804,263 L803.5,262.1 L803,261.2 L802.5,260.2 L802,259.3 L801.6,258.3 L801.3,257.4" fill="none" stroke="#000" stroke-width="2.7" stroke-linecap="round" stroke-dasharray="5 6"/>
<path d="M918.9,264.2 L918.4,265.1 L917.9,265.9 L917.3,266.8 L916.8,267.6 L916.2,268.4 L915.5,269.2 L914.9,270.1 L914.2,270.9 L913.5,271.6 L912.7,272.4 L911.9,273.2 L911.2,273.9 L910.3,274.7 L909.5,275.4 L908.6,276.1 L907.7,276.8 L906.8,277.5 L905.9,278.2 L904.9,278.9 L903.9,279.5 L902.9,280.2 L901.9,280.8 L900.9,281.4 L899.8,282 L898.7,282.6 L897.6,283.1 L896.5,283.7 L895.3,284.2 L894.2,284.7 L893,285.2 L891.8,285.7 L890.6,286.2 L889.4,286.6 L888.1,287.1 L886.9,287.5 L885.6,287.9 L884.3,288.3 L883,288.6 L881.7,289 L880.4,289.3" fill="none" stroke="#000" stroke-width="2.7" stroke-linecap="round" stroke-dasharray="5 7"/>
<ellipse cx="858.5" cy="227" rx="20.5" ry="12" fill="none" stroke="#000" stroke-width="2.7" stroke-dasharray="5 6" />
<path d="M879,243 L878.9,243.9 L878.7,244.9 L878.4,245.8 L878,246.7 L877.4,247.6 L876.8,248.4 L876,249.3 L875.1,250.1 L874.1,250.8 L873,251.5 L871.8,252.1 L870.5,252.7 L869.2,253.2 L867.8,253.7 L866.3,254.1 L864.8,254.4 L863.3,254.7 L861.7,254.9 L860.1,255 L858.5,255 L856.9,255 L855.3,254.9 L853.7,254.7 L852.2,254.4 L850.7,254.1 L849.2,253.7 L847.8,253.2 L846.5,252.7 L845.2,252.1 L844,251.5 L842.9,250.8 L841.9,250.1 L841,249.3 L840.2,248.4 L839.6,247.6 L839,246.7 L838.6,245.8 L838.3,244.9 L838.1,243.9 L838,243" fill="none" stroke="#000" stroke-width="2.7" stroke-linecap="round" stroke-dasharray="6 6"/>
<ellipse cx="858.5" cy="226" rx="11.3" ry="6" fill="none" stroke="#000" stroke-width="2.43" stroke-dasharray="4 5" />
<ellipse cx="843" cy="371.2" rx="83.6" ry="54.8" fill="none" stroke="#000" stroke-width="2.7" stroke-dasharray="6 6" />
<ellipse cx="840" cy="362.8" rx="69" ry="39.8" fill="none" stroke="#000" stroke-width="2.7" stroke-dasharray="6 7" />
<path d="M836.1,420.8 L833.5,420.6 L830.9,420.4 L828.3,420.1 L825.7,419.8 L823.2,419.4 L820.6,418.9 L818.1,418.4 L815.6,417.9 L813.1,417.3 L810.7,416.6 L808.3,415.9 L806,415.1 L803.7,414.3 L801.4,413.5 L799.2,412.5 L797,411.6 L794.9,410.6 L792.8,409.5 L790.8,408.5 L788.9,407.3 L787,406.2 L785.2,404.9 L783.4,403.7 L781.7,402.4 L780.1,401.1 L778.6,399.7 L777.1,398.3 L775.7,396.9 L774.4,395.5 L773.1,394 L772,392.5 L770.9,391 L769.9,389.4 L768.9,387.9 L768.1,386.3 L767.3,384.7 L766.7,383.1 L766.1,381.4 L765.6,379.8 L765.2,378.1" fill="none" stroke="#000" stroke-width="2.7" stroke-linecap="round" stroke-dasharray="6 5"/>
<path d="M824,414.5 L822,414.1 L820.1,413.8 L818.2,413.4 L816.3,412.9 L814.4,412.5 L812.5,412 L810.7,411.5 L808.9,410.9 L807.1,410.3 L805.4,409.7 L803.6,409.1 L801.9,408.4 L800.3,407.7 L798.7,407 L797.1,406.2 L795.5,405.4 L794,404.6 L792.5,403.8 L791,402.9 L789.6,402 L788.2,401.1 L786.9,400.2 L785.6,399.3 L784.4,398.3 L783.2,397.3 L782,396.3 L780.9,395.3 L779.8,394.2 L778.8,393.1 L777.9,392.1 L776.9,391 L776.1,389.8 L775.3,388.7 L774.5,387.6 L773.8,386.4 L773.1,385.3 L772.5,384.1 L772,382.9 L771.5,381.7 L771,380.5" fill="none" stroke="#000" stroke-width="2.7" stroke-linecap="round" stroke-dasharray="5 6"/>
<path d="M917.8,388.6 L917.2,389.6 L916.5,390.6 L915.9,391.7 L915.1,392.7 L914.4,393.7 L913.6,394.7 L912.8,395.6 L911.9,396.6 L911.1,397.6 L910.1,398.5 L909.2,399.4 L908.2,400.3 L907.2,401.2 L906.2,402.1 L905.1,403 L904,403.9 L902.8,404.7 L901.7,405.5 L900.5,406.3 L899.3,407.1 L898,407.9 L896.8,408.7 L895.5,409.4 L894.2,410.1 L892.8,410.8 L891.5,411.5 L890.1,412.2 L888.7,412.8 L887.2,413.4 L885.8,414 L884.3,414.6 L882.8,415.2 L881.3,415.7 L879.8,416.3 L878.2,416.8 L876.6,417.2 L875.1,417.7 L873.5,418.1 L871.9,418.5 L870.2,418.9" fill="none" stroke="#000" stroke-width="2.7" stroke-linecap="round" stroke-dasharray="5 7"/>
<ellipse cx="839.5" cy="350.5" rx="22.5" ry="11.5" fill="none" stroke="#000" stroke-width="2.7" stroke-dasharray="5 6" />
<path d="M862,365 L861.9,365.9 L861.7,366.8 L861.4,367.7 L860.9,368.6 L860.3,369.4 L859.5,370.2 L858.7,371 L857.7,371.8 L856.6,372.5 L855.4,373.1 L854.1,373.7 L852.7,374.3 L851.3,374.8 L849.7,375.2 L848.1,375.6 L846.5,375.9 L844.8,376.2 L843,376.4 L841.3,376.5 L839.5,376.5 L837.7,376.5 L836,376.4 L834.2,376.2 L832.5,375.9 L830.9,375.6 L829.3,375.2 L827.7,374.8 L826.3,374.3 L824.9,373.7 L823.6,373.1 L822.4,372.5 L821.3,371.8 L820.3,371 L819.5,370.2 L818.7,369.4 L818.1,368.6 L817.6,367.7 L817.3,366.8 L817.1,365.9 L817,365" fill="none" stroke="#000" stroke-width="2.7" stroke-linecap="round" stroke-dasharray="6 6"/>
<ellipse cx="839.5" cy="349.5" rx="12.4" ry="5.8" fill="none" stroke="#000" stroke-width="2.43" stroke-dasharray="4 5" />
<ellipse cx="1200.4" cy="406" rx="69.4" ry="45.6" fill="none" stroke="#000" stroke-width="2.7" stroke-dasharray="6 6" />
<path d="M1255.4,386.7 L1257.1,389.7 L1258.3,392.8 L1258.9,396 L1259,399.2 L1258.5,402.3 L1257.5,405.4 L1255.9,408.5 L1253.8,411.4 L1251.2,414.2 L1248.1,416.9 L1244.6,419.4 L1240.7,421.7 L1236.4,423.8 L1231.7,425.7 L1226.7,427.3 L1221.5,428.6 L1216,429.6 L1210.4,430.4 L1204.8,430.8 L1199,431 L1193.2,430.8 L1187.6,430.4 L1182,429.6 L1176.5,428.6 L1171.3,427.3 L1166.3,425.7 L1161.6,423.8 L1157.3,421.7 L1153.4,419.4 L1149.9,416.9 L1146.8,414.2 L1144.2,411.4 L1142.1,408.5 L1140.5,405.4 L1139.5,402.3 L1139,399.2 L1139.1,396 L1139.7,392.8 L1140.9,389.7 L1142.6,386.7" fill="none" stroke="#000" stroke-width="2.7" stroke-linecap="round" stroke-dasharray="6 7"/>
<path d="M1194.8,446.4 L1192.6,446.3 L1190.5,446.1 L1188.4,445.9 L1186.2,445.6 L1184.1,445.3 L1182.1,444.9 L1180,444.5 L1178,444.1 L1175.9,443.6 L1173.9,443 L1172,442.4 L1170.1,441.8 L1168.2,441.2 L1166.3,440.4 L1164.5,439.7 L1162.7,438.9 L1161,438.1 L1159.3,437.3 L1157.7,436.4 L1156.1,435.5 L1154.5,434.5 L1153,433.5 L1151.6,432.5 L1150.2,431.4 L1148.9,430.4 L1147.6,429.3 L1146.4,428.1 L1145.3,427 L1144.2,425.8 L1143.1,424.6 L1142.2,423.4 L1141.3,422.1 L1140.5,420.9 L1139.7,419.6 L1139,418.3 L1138.4,417 L1137.9,415.7 L1137.4,414.3 L1137,413 L1136.6,411.7" fill="none" stroke="#000" stroke-width="2.7" stroke-linecap="round" stroke-dasharray="6 5"/>
<path d="M1185,440.4 L1183.5,440.1 L1181.9,439.8 L1180.4,439.5 L1178.8,439.2 L1177.3,438.8 L1175.8,438.4 L1174.3,438 L1172.9,437.5 L1171.4,437.1 L1170,436.6 L1168.6,436.1 L1167.3,435.5 L1165.9,435 L1164.6,434.4 L1163.3,433.8 L1162.1,433.2 L1160.8,432.5 L1159.6,431.9 L1158.5,431.2 L1157.3,430.5 L1156.2,429.8 L1155.1,429 L1154.1,428.3 L1153.1,427.5 L1152.1,426.7 L1151.2,425.9 L1150.3,425.1 L1149.4,424.3 L1148.6,423.4 L1147.8,422.6 L1147.1,421.7 L1146.4,420.8 L1145.7,419.9 L1145.1,419 L1144.5,418.1 L1144,417.2 L1143.5,416.2 L1143.1,415.3 L1142.7,414.4 L1142.3,413.4" fill="none" stroke="#000" stroke-width="2.7" stroke-linecap="round" stroke-dasharray="5 6"/>
<path d="M1261.9,420.2 L1261.4,421.1 L1260.8,421.9 L1260.3,422.8 L1259.7,423.6 L1259.1,424.4 L1258.4,425.2 L1257.7,426 L1257,426.8 L1256.3,427.6 L1255.6,428.4 L1254.8,429.1 L1254,429.9 L1253.1,430.6 L1252.3,431.3 L1251.4,432 L1250.5,432.7 L1249.6,433.4 L1248.6,434.1 L1247.6,434.8 L1246.6,435.4 L1245.6,436.1 L1244.6,436.7 L1243.5,437.3 L1242.4,437.9 L1241.3,438.4 L1240.2,439 L1239.1,439.5 L1237.9,440.1 L1236.7,440.6 L1235.5,441.1 L1234.3,441.6 L1233.1,442 L1231.9,442.5 L1230.6,442.9 L1229.3,443.3 L1228,443.7 L1226.7,444.1 L1225.4,444.4 L1224.1,444.8 L1222.8,445.1" fill="none" stroke="#000" stroke-width="2.7" stroke-linecap="round" stroke-dasharray="5 7"/>
<ellipse cx="1197" cy="382" rx="22" ry="11.5" fill="none" stroke="#000" stroke-width="2.7" stroke-dasharray="5 6" />
<path d="M1219,399.5 L1218.9,400.4 L1218.7,401.3 L1218.4,402.2 L1217.9,403.1 L1217.3,403.9 L1216.6,404.7 L1215.8,405.5 L1214.8,406.3 L1213.7,407 L1212.6,407.6 L1211.3,408.2 L1209.9,408.8 L1208.5,409.3 L1207,409.7 L1205.4,410.1 L1203.8,410.4 L1202.1,410.7 L1200.4,410.9 L1198.7,411 L1197,411 L1195.3,411 L1193.6,410.9 L1191.9,410.7 L1190.2,410.4 L1188.6,410.1 L1187,409.7 L1185.5,409.3 L1184.1,408.8 L1182.7,408.2 L1181.4,407.6 L1180.3,407 L1179.2,406.3 L1178.2,405.5 L1177.4,404.7 L1176.7,403.9 L1176.1,403.1 L1175.6,402.2 L1175.3,401.3 L1175.1,400.4 L1175,399.5" fill="none" stroke="#000" stroke-width="2.7" stroke-linecap="round" stroke-dasharray="6 6"/>
<ellipse cx="1197" cy="381" rx="12.1" ry="5.8" fill="none" stroke="#000" stroke-width="2.43" stroke-dasharray="4 5" />
<path d="M815.6,419.1 L814,418.7 L812.4,418.3 L810.8,417.9 L809.2,417.4 L807.6,416.9 L806.1,416.4 L804.5,415.9 L803,415.4 L801.5,414.8 L800,414.2 L798.6,413.6 L797.1,413 L795.7,412.3 L794.3,411.7 L792.9,411 L791.6,410.3 L790.3,409.5 L789,408.8 L787.7,408 L786.4,407.3 L785.2,406.5 L784,405.7 L782.9,404.8 L781.7,404 L780.6,403.1 L779.5,402.2 L778.5,401.4 L777.5,400.5 L776.5,399.5 L775.5,398.6 L774.6,397.7 L773.7,396.7 L772.9,395.7 L772,394.7 L771.3,393.8 L770.5,392.8 L769.8,391.7 L769.1,390.7 L768.4,389.7 L767.8,388.6" fill="none" stroke="#000" stroke-width="2.4" stroke-linecap="round"/>
<path d="M1265.2,408 L1264.9,409.2 L1264.6,410.4 L1264.2,411.6 L1263.7,412.8 L1263.1,414 L1262.4,415.2 L1261.7,416.4 L1260.8,417.5 L1259.9,418.7 L1258.9,419.8 L1257.9,420.9 L1256.7,421.9 L1255.5,423 L1254.3,424 L1252.9,425 L1251.5,426 L1250,427 L1248.4,427.9 L1246.8,428.8 L1245.1,429.7 L1243.4,430.5 L1241.6,431.3 L1239.8,432.1 L1237.9,432.8 L1235.9,433.5 L1233.9,434.1 L1231.9,434.7 L1229.8,435.3 L1227.7,435.9 L1225.5,436.4 L1223.3,436.8 L1221.1,437.2 L1218.9,437.6 L1216.6,437.9 L1214.3,438.2 L1212,438.5 L1209.7,438.7 L1207.4,438.8 L1205,438.9 L1202.7,439" fill="none" stroke="#000" stroke-width="3.4" stroke-linecap="round"/>
<path d="M345.2,127 L345.2,140.4 A18.8,10 0 0 0 382.8,140.4 L382.8,127 A18.8,10 0 0 0 345.2,127 Z" fill="#fff" stroke="#000" stroke-width="3" stroke-linejoin="round"/>
<ellipse cx="364" cy="127" rx="18.8" ry="10" fill="#fff" stroke="#000" stroke-width="3" />
<line x1="356.9" y1="136.1" x2="356.9" y2="149.7" stroke="#000" stroke-width="2.4000000000000004" />
<line x1="371.1" y1="136.1" x2="371.1" y2="149.7" stroke="#000" stroke-width="2.4000000000000004" />
<ellipse cx="364" cy="128" rx="13.5" ry="6" fill="none" stroke="#000" stroke-width="2.4" />
<ellipse cx="364" cy="128" rx="8.5" ry="3.4" fill="none" stroke="#000" stroke-width="3" />
<path d="M515.9,150.8 L515.9,164.2 A11.8,5.6 0 0 0 539.4,164.2 L539.4,150.8 A11.8,5.6 0 0 0 515.9,150.8 Z" fill="#fff" stroke="#000" stroke-width="2.6" stroke-linejoin="round"/>
<ellipse cx="527.6" cy="150.8" rx="11.8" ry="5.6" fill="#fff" stroke="#000" stroke-width="2.6" />
<line x1="522.9" y1="156.5" x2="522.9" y2="168.7" stroke="#000" stroke-width="2.08" />
<line x1="532.3" y1="156.5" x2="532.3" y2="168.7" stroke="#000" stroke-width="2.08" />
<path d="M519.6,169.8 L519.6,191.8 Q527.6,196.8 535.6,191.8 L535.6,169.8" fill="#fff" stroke="#000" stroke-width="2.6"/>
<line x1="519.6" y1="173.8" x2="535.6" y2="174.8" stroke="#000" stroke-width="2.8600000000000003" />
<line x1="519.6" y1="179.8" x2="535.6" y2="180.8" stroke="#000" stroke-width="2.8600000000000003" />
<line x1="519.6" y1="185.8" x2="535.6" y2="186.8" stroke="#000" stroke-width="2.8600000000000003" />
<line x1="519.6" y1="191.8" x2="535.6" y2="192.8" stroke="#000" stroke-width="2.8600000000000003" />
<path d="M514,209 L514,213 A15,9 0 0 0 544,213 L544,209 Z" fill="#000" stroke="#000" stroke-width="2.6"/>
<ellipse cx="529" cy="209" rx="15" ry="9" fill="#000" stroke="#000" stroke-width="2.6" />
<path d="M522.2,207.7 L535.8,207.7 L534.1,211.7 L523.9,211.7 Z" fill="#fff"/>
<path d="M517,213.9 Q529,220.2 541,213.9" fill="none" stroke="#fff" stroke-width="1.6"/>
<path d="M692.7,140 L692.7,153 A12.5,6 0 0 0 717.7,153 L717.7,140 A12.5,6 0 0 0 692.7,140 Z" fill="#fff" stroke="#000" stroke-width="2.6" stroke-linejoin="round"/>
<ellipse cx="705.2" cy="140" rx="12.5" ry="6" fill="#fff" stroke="#000" stroke-width="2.6" />
<line x1="700.2" y1="146" x2="700.2" y2="157.8" stroke="#000" stroke-width="2.08" />
<line x1="710.2" y1="146" x2="710.2" y2="157.8" stroke="#000" stroke-width="2.08" />
<path d="M696.8,159 L696.8,182.2 Q705.2,187.2 713.6,182.2 L713.6,159" fill="#fff" stroke="#000" stroke-width="2.6"/>
<line x1="696.8" y1="163" x2="713.6" y2="164" stroke="#000" stroke-width="2.8600000000000003" />
<line x1="696.8" y1="169.4" x2="713.6" y2="170.4" stroke="#000" stroke-width="2.8600000000000003" />
<line x1="696.8" y1="175.8" x2="713.6" y2="176.8" stroke="#000" stroke-width="2.8600000000000003" />
<line x1="696.8" y1="182.2" x2="713.6" y2="183.2" stroke="#000" stroke-width="2.8600000000000003" />
<path d="M689.6,197 L689.6,203 A17.2,8.5 0 0 0 724,203 L724,197 A17.2,8.5 0 0 0 689.6,197 Z" fill="#fff" stroke="#000" stroke-width="2.8"/>
<ellipse cx="706.8" cy="197" rx="17.2" ry="8.5" fill="#fff" stroke="#000" stroke-width="2.8" />
<ellipse cx="706.8" cy="197" rx="10" ry="4.9" fill="none" stroke="#000" stroke-width="2.8" />
<ellipse cx="706" cy="198" rx="5" ry="2.6" fill="#000" stroke="#000" stroke-width="3" />
<ellipse cx="1023.5" cy="182" rx="12.5" ry="6.5" fill="#fff" stroke="#000" stroke-width="3.2" />
<path d="M1010.5,182 L1010.5,194 Q1012,199 1017,199.5 L1030,199.5 Q1035,199 1036.5,194 L1036.5,182 A12.5,6.5 0 0 1 1010.5,182 Z" fill="#000"/>
<rect x="1013.5" y="190" width="4" height="5" fill="#fff"/><rect x="1020.5" y="191" width="6" height="6" fill="#fff"/><rect x="1030" y="190" width="3" height="5" fill="#fff"/>
<path d="M1015.5,199 L1015.5,213 Q1016,217.5 1024,217.5 Q1033,217.5 1033.5,213 L1033.5,199 Z" fill="#000"/>
<rect x="1019.5" y="204" width="9" height="4" fill="#fff"/><rect x="1019.5" y="211" width="8" height="2.5" fill="#fff"/>
<path d="M1008.8,230 L1008.8,233.5 A14.5,9 0 0 0 1037.8,233.5 L1037.8,230 Z" fill="#000" stroke="#000" stroke-width="2.6"/>
<ellipse cx="1023.3" cy="230" rx="14.5" ry="9" fill="#000" stroke="#000" stroke-width="2.6" />
<path d="M1016.8,228.7 L1029.8,228.7 L1028.2,232.7 L1018.4,232.7 Z" fill="#fff"/>
<path d="M1011.7,234.9 Q1023.3,241.2 1034.9,234.9" fill="none" stroke="#fff" stroke-width="1.6"/>
<path d="M993.1,258 L1119.1,323 L1122.2,332.2 L1112.9,335 L986.9,270 Z" fill="#fff" stroke="#000" stroke-width="2.8" stroke-linejoin="round" />
<line x1="991.4" y1="261.3" x2="1117.4" y2="326.3" stroke="#000" stroke-width="1.6" />
<line x1="1067.7" y1="305.2" x2="1115.5" y2="329.9" stroke="#000" stroke-width="1.6" />
<line x1="1004.2" y1="273.6" x2="1042" y2="293.1" stroke="#000" stroke-width="1.6" />
<rect x="330.5" y="256.5" width="14" height="23.5" rx="7" ry="8" fill="#fff" stroke="#000" stroke-width="2.8" transform="rotate(8 337.5 268)"/>
<line x1="336.5" y1="259" x2="337.5" y2="278" stroke="#000" stroke-width="2.4" />
<path d="M341,289 L341,304 A24.5,11.5 0 0 0 390,304 L390,289 A24.5,11.5 0 0 0 341,289 Z" fill="#fff" stroke="#000" stroke-width="2.8" stroke-linejoin="round"/>
<ellipse cx="365.5" cy="289" rx="24.5" ry="11.5" fill="#fff" stroke="#000" stroke-width="2.8" />
<ellipse cx="366" cy="290" rx="12.5" ry="5.5" fill="none" stroke="#000" stroke-width="2.8" />
<path d="M346.2,339.5 L346.5,338.6 L346.9,337.7 L347.5,336.8 L348.2,335.9 L349.1,335.1 L350,334.4 L351.1,333.7 L352.3,333 L353.5,332.4 L354.9,331.8 L356.4,331.4 L357.9,331 L359.4,330.6 L361,330.3 L362.7,330.2 L364.4,330 L366.1,330 L367.7,330 L369.4,330.2 L371.1,330.4 L372.7,330.6 L374.2,331 L375.7,331.4 L377.2,331.9 L378.5,332.4 L379.8,333 L381,333.7 L382,334.4 L383,335.2 L383.8,336 L384.5,336.8 L385.1,337.7 L385.5,338.6 L385.8,339.5 L386,340.5 L386,341.4 L385.9,342.3 L385.6,343.2 L385.2,344.1 L384.6,345 L384,345.9 L383.1,346.7 L382.2,347.4 L381.2,348.2 L380,348.8 L378.8,349.5 L377.4,350 L376,350.5 L374.5,351 L372.9,351.3 L371.3,351.6 L369.7,351.8 L368,351.9 L366.3,352 L364.7,352 L363,351.9 L361.3,351.7 L359.7,351.4 L358.1,351.1 L356.6,350.7" fill="none" stroke="#000" stroke-width="12" stroke-linecap="butt"/>
<path d="M372.2,351.9 L371.9,352 L371.6,352 L371.4,352.1 L371.1,352.1 L370.8,352.2 L370.5,352.2 L370.2,352.2 L370,352.3 L369.7,352.3 L369.4,352.3 L369.1,352.4 L368.8,352.4 L368.5,352.4 L368.2,352.4 L368,352.4 L367.7,352.5 L367.4,352.5 L367.1,352.5 L366.8,352.5 L366.5,352.5 L366.2,352.5 L365.9,352.5 L365.7,352.5 L365.4,352.5 L365.1,352.5 L364.8,352.5 L364.5,352.5 L364.2,352.5 L363.9,352.4 L363.6,352.4 L363.4,352.4 L363.1,352.4 L362.8,352.4 L362.5,352.3 L362.2,352.3 L361.9,352.3 L361.7,352.2 L361.4,352.2 L361.1,352.1 L360.8,352.1" fill="none" stroke="#fff" stroke-width="1.8" stroke-linecap="round"/>
<path d="M346.1,335.7 L346.2,335.6 L346.3,335.5 L346.4,335.3 L346.5,335.2 L346.6,335.1 L346.8,334.9 L346.9,334.8 L347,334.7 L347.2,334.5 L347.3,334.4 L347.4,334.3 L347.6,334.2 L347.7,334.1 L347.9,333.9 L348,333.8 L348.2,333.7 L348.3,333.6 L348.5,333.5 L348.6,333.3 L348.8,333.2 L348.9,333.1 L349.1,333 L349.3,332.9 L349.4,332.8 L349.6,332.7 L349.8,332.5 L350,332.4 L350.1,332.3 L350.3,332.2 L350.5,332.1 L350.7,332 L350.9,331.9 L351.1,331.8 L351.3,331.7 L351.5,331.6 L351.7,331.5 L351.9,331.4 L352.1,331.3 L352.3,331.2 L352.5,331.1" fill="none" stroke="#fff" stroke-width="1.5" stroke-linecap="round"/>
<path d="M379.5,329.9 L379.8,330.1 L380.1,330.2 L380.5,330.4 L380.8,330.5 L381.1,330.7 L381.4,330.8 L381.7,331 L382,331.1 L382.3,331.3 L382.6,331.5 L382.9,331.6 L383.2,331.8 L383.5,332 L383.7,332.1 L384,332.3 L384.3,332.5 L384.5,332.7 L384.8,332.9 L385,333.1 L385.3,333.3 L385.5,333.5 L385.7,333.6 L385.9,333.8 L386.1,334 L386.4,334.2 L386.6,334.5 L386.7,334.7 L386.9,334.9 L387.1,335.1 L387.3,335.3 L387.5,335.5 L387.6,335.7 L387.8,335.9 L387.9,336.2 L388.1,336.4 L388.2,336.6 L388.3,336.8 L388.5,337.1 L388.6,337.3 L388.7,337.5" fill="none" stroke="#fff" stroke-width="1.4" stroke-linecap="round"/>
<path d="M346,381 L346,430 A19,9 0 0 0 384,430 L384,381 A19,9 0 0 0 346,381 Z" fill="#fff" stroke="#000" stroke-width="2.8" stroke-linejoin="round"/>
<ellipse cx="365" cy="381" rx="19" ry="9" fill="#fff" stroke="#000" stroke-width="2.8" />
<ellipse cx="365" cy="380.5" rx="10" ry="4.5" fill="none" stroke="#000" stroke-width="2.6" />
<path d="M339,562 L339,572 C341,578 352,580.5 367.5,580.5 C383,580.5 394,578 396,572 L396,562" fill="#fff" stroke="#000" stroke-width="2.8" stroke-linejoin="round" stroke-linecap="round" />
<path d="M301.5,520 L302.5,536 A66,32 0 0 0 434.5,536 L435.5,520 Z" fill="#fff" stroke="#000" stroke-width="2.8"/>
<ellipse cx="368.5" cy="520" rx="67" ry="32" fill="#fff" stroke="#000" stroke-width="2.8" />
<ellipse cx="368.7" cy="520" rx="44" ry="19" fill="none" stroke="#000" stroke-width="3" />
<path d="M408.4,520.8 L407.8,521.9 L407,522.9 L406.1,524 L405,525 L403.6,526 L402.2,526.9 L400.5,527.9 L398.7,528.7 L396.8,529.5 L394.7,530.3 L392.5,530.9 L390.2,531.6 L387.8,532.1 L385.3,532.6 L382.7,533 L380,533.4 L377.3,533.7 L374.6,533.8 L371.8,534 L369,534 L366.2,534 L363.4,533.8 L360.7,533.7 L358,533.4 L355.3,533 L352.7,532.6 L350.2,532.1 L347.8,531.6 L345.5,530.9 L343.3,530.3 L341.2,529.5 L339.3,528.7 L337.5,527.9 L335.8,526.9 L334.4,526 L333,525 L331.9,524 L331,522.9 L330.2,521.9 L329.6,520.8" fill="none" stroke="#000" stroke-width="2.4" stroke-linecap="round"/>
<path d="M338,476 L338,511 A30,12 0 0 0 398,511 L398,476 A30,12 0 0 0 338,476 Z" fill="#fff" stroke="#000" stroke-width="2.8" stroke-linejoin="round"/>
<ellipse cx="368" cy="476" rx="30" ry="12" fill="#fff" stroke="#000" stroke-width="2.8" />
<ellipse cx="367" cy="481.5" rx="20" ry="9.5" fill="none" stroke="#000" stroke-width="3" />
<path d="M385.8,486.2 L385.3,486.8 L384.8,487.3 L384.2,487.8 L383.6,488.3 L382.9,488.8 L382.1,489.2 L381.3,489.7 L380.4,490.1 L379.5,490.4 L378.5,490.8 L377.4,491.1 L376.4,491.4 L375.3,491.6 L374.2,491.9 L373,492.1 L371.8,492.2 L370.6,492.3 L369.4,492.4 L368.2,492.5 L367,492.5 L365.8,492.5 L364.6,492.4 L363.4,492.3 L362.2,492.2 L361,492.1 L359.8,491.9 L358.7,491.6 L357.6,491.4 L356.6,491.1 L355.5,490.8 L354.5,490.4 L353.6,490.1 L352.7,489.7 L351.9,489.2 L351.1,488.8 L350.4,488.3 L349.8,487.8 L349.2,487.3 L348.7,486.8 L348.2,486.2" fill="none" stroke="#000" stroke-width="4.5" stroke-linecap="round"/>
<ellipse cx="313.5" cy="519.7" rx="4" ry="3.5" fill="none" stroke="#000" stroke-width="2.6" />
<ellipse cx="422.5" cy="519.7" rx="4" ry="3.5" fill="none" stroke="#000" stroke-width="2.6" />
<rect x="363" y="545" width="9" height="8" fill="#fff" stroke="#000" stroke-width="2.4"/>
<path d="M350.7,604.5 L351,603.6 L351.4,602.7 L352,601.8 L352.7,600.9 L353.6,600.1 L354.5,599.4 L355.6,598.7 L356.8,598 L358,597.4 L359.4,596.8 L360.9,596.4 L362.4,596 L363.9,595.6 L365.5,595.3 L367.2,595.2 L368.9,595 L370.6,595 L372.2,595 L373.9,595.2 L375.6,595.4 L377.2,595.6 L378.7,596 L380.2,596.4 L381.7,596.9 L383,597.4 L384.3,598 L385.5,598.7 L386.5,599.4 L387.5,600.2 L388.3,601 L389,601.8 L389.6,602.7 L390,603.6 L390.3,604.5 L390.5,605.5 L390.5,606.4 L390.4,607.3 L390.1,608.2 L389.7,609.1 L389.1,610 L388.5,610.9 L387.6,611.7 L386.7,612.4 L385.7,613.2 L384.5,613.8 L383.3,614.5 L381.9,615 L380.5,615.5 L379,616 L377.4,616.3 L375.8,616.6 L374.2,616.8 L372.5,616.9 L370.8,617 L369.2,617 L367.5,616.9 L365.8,616.7 L364.2,616.4 L362.6,616.1 L361.1,615.7" fill="none" stroke="#000" stroke-width="12" stroke-linecap="butt"/>
<path d="M376.7,616.9 L376.4,617 L376.1,617 L375.9,617.1 L375.6,617.1 L375.3,617.2 L375,617.2 L374.7,617.2 L374.5,617.3 L374.2,617.3 L373.9,617.3 L373.6,617.4 L373.3,617.4 L373,617.4 L372.7,617.4 L372.5,617.4 L372.2,617.5 L371.9,617.5 L371.6,617.5 L371.3,617.5 L371,617.5 L370.7,617.5 L370.4,617.5 L370.2,617.5 L369.9,617.5 L369.6,617.5 L369.3,617.5 L369,617.5 L368.7,617.5 L368.4,617.4 L368.1,617.4 L367.9,617.4 L367.6,617.4 L367.3,617.4 L367,617.3 L366.7,617.3 L366.4,617.3 L366.2,617.2 L365.9,617.2 L365.6,617.1 L365.3,617.1" fill="none" stroke="#fff" stroke-width="1.8" stroke-linecap="round"/>
<path d="M350.6,600.7 L350.7,600.6 L350.8,600.5 L350.9,600.3 L351,600.2 L351.1,600.1 L351.3,599.9 L351.4,599.8 L351.5,599.7 L351.7,599.5 L351.8,599.4 L351.9,599.3 L352.1,599.2 L352.2,599.1 L352.4,598.9 L352.5,598.8 L352.7,598.7 L352.8,598.6 L353,598.5 L353.1,598.3 L353.3,598.2 L353.4,598.1 L353.6,598 L353.8,597.9 L353.9,597.8 L354.1,597.7 L354.3,597.5 L354.5,597.4 L354.6,597.3 L354.8,597.2 L355,597.1 L355.2,597 L355.4,596.9 L355.6,596.8 L355.8,596.7 L356,596.6 L356.2,596.5 L356.4,596.4 L356.6,596.3 L356.8,596.2 L357,596.1" fill="none" stroke="#fff" stroke-width="1.5" stroke-linecap="round"/>
<path d="M384,594.9 L384.3,595.1 L384.6,595.2 L385,595.4 L385.3,595.5 L385.6,595.7 L385.9,595.8 L386.2,596 L386.5,596.1 L386.8,596.3 L387.1,596.5 L387.4,596.6 L387.7,596.8 L388,597 L388.2,597.1 L388.5,597.3 L388.8,597.5 L389,597.7 L389.3,597.9 L389.5,598.1 L389.8,598.3 L390,598.5 L390.2,598.6 L390.4,598.8 L390.6,599 L390.9,599.2 L391.1,599.5 L391.2,599.7 L391.4,599.9 L391.6,600.1 L391.8,600.3 L392,600.5 L392.1,600.7 L392.3,600.9 L392.4,601.2 L392.6,601.4 L392.7,601.6 L392.8,601.8 L393,602.1 L393.1,602.3 L393.2,602.5" fill="none" stroke="#fff" stroke-width="1.4" stroke-linecap="round"/>
<path d="M346,639 L346,657 A24.5,12 0 0 0 395,657 L395,639 A24.5,12 0 0 0 346,639 Z" fill="#fff" stroke="#000" stroke-width="2.8" stroke-linejoin="round"/>
<ellipse cx="370.5" cy="639" rx="24.5" ry="12" fill="#fff" stroke="#000" stroke-width="2.8" />
<ellipse cx="370.5" cy="639" rx="14" ry="6.5" fill="none" stroke="#000" stroke-width="2.8" />
<path d="M341,806 L341,822 A32,14 0 0 0 405,822 L405,806 A32,14 0 0 0 341,806 Z" fill="#fff" stroke="#000" stroke-width="2.8" stroke-linejoin="round"/>
<ellipse cx="373" cy="806" rx="32" ry="14" fill="#fff" stroke="#000" stroke-width="2.8" />
<ellipse cx="373" cy="803" rx="19" ry="8" fill="none" stroke="#000" stroke-width="2.8" />
<path d="M358,692 L358,801 L388.5,801 L388.5,692" fill="#fff" stroke="#000" stroke-width="2.8" stroke-linejoin="round" />
<path d="M357.5,689 L357.5,709 A14.5,6.5 0 0 0 386.5,709 L386.5,689 A14.5,6.5 0 0 0 357.5,689 Z" fill="#fff" stroke="#000" stroke-width="2.8" stroke-linejoin="round"/>
<ellipse cx="372" cy="689" rx="14.5" ry="6.5" fill="#fff" stroke="#000" stroke-width="2.8" />
<path d="M386.3,697.9 L386.1,698.2 L385.8,698.5 L385.4,698.9 L385,699.2 L384.6,699.5 L384,699.8 L383.4,700.1 L382.8,700.3 L382.1,700.6 L381.3,700.8 L380.5,701 L379.7,701.2 L378.8,701.4 L377.9,701.6 L377,701.7 L376,701.8 L375,701.9 L374,702 L373,702 L372,702 L371,702 L370,702 L369,701.9 L368,701.8 L367,701.7 L366.1,701.6 L365.2,701.4 L364.3,701.2 L363.5,701 L362.7,700.8 L361.9,700.6 L361.2,700.3 L360.6,700.1 L360,699.8 L359.4,699.5 L359,699.2 L358.6,698.9 L358.2,698.5 L357.9,698.2 L357.7,697.9" fill="none" stroke="#000" stroke-width="2.6" stroke-linecap="round"/>
<path d="M386.3,703.9 L386.1,704.2 L385.8,704.5 L385.4,704.9 L385,705.2 L384.6,705.5 L384,705.8 L383.4,706.1 L382.8,706.3 L382.1,706.6 L381.3,706.8 L380.5,707 L379.7,707.2 L378.8,707.4 L377.9,707.6 L377,707.7 L376,707.8 L375,707.9 L374,708 L373,708 L372,708 L371,708 L370,708 L369,707.9 L368,707.8 L367,707.7 L366.1,707.6 L365.2,707.4 L364.3,707.2 L363.5,707 L362.7,706.8 L361.9,706.6 L361.2,706.3 L360.6,706.1 L360,705.8 L359.4,705.5 L359,705.2 L358.6,704.9 L358.2,704.5 L357.9,704.2 L357.7,703.9" fill="none" stroke="#000" stroke-width="2.6" stroke-linecap="round"/>
<path d="M386.3,709.9 L386.1,710.2 L385.8,710.5 L385.4,710.9 L385,711.2 L384.6,711.5 L384,711.8 L383.4,712.1 L382.8,712.3 L382.1,712.6 L381.3,712.8 L380.5,713 L379.7,713.2 L378.8,713.4 L377.9,713.6 L377,713.7 L376,713.8 L375,713.9 L374,714 L373,714 L372,714 L371,714 L370,714 L369,713.9 L368,713.8 L367,713.7 L366.1,713.6 L365.2,713.4 L364.3,713.2 L363.5,713 L362.7,712.8 L361.9,712.6 L361.2,712.3 L360.6,712.1 L360,711.8 L359.4,711.5 L359,711.2 L358.6,710.9 L358.2,710.5 L357.9,710.2 L357.7,709.9" fill="none" stroke="#000" stroke-width="2.6" stroke-linecap="round"/>
<path d="M387.8,801 L387.6,801.5 L387.3,801.9 L386.9,802.2 L386.5,802.6 L386,803 L385.4,803.4 L384.8,803.7 L384.1,804 L383.4,804.3 L382.6,804.6 L381.8,804.9 L380.9,805.1 L380,805.3 L379.1,805.5 L378.1,805.6 L377.1,805.8 L376.1,805.9 L375.1,805.9 L374,806 L373,806 L372,806 L370.9,805.9 L369.9,805.9 L368.9,805.8 L367.9,805.6 L366.9,805.5 L366,805.3 L365.1,805.1 L364.2,804.9 L363.4,804.6 L362.6,804.3 L361.9,804 L361.2,803.7 L360.6,803.4 L360,803 L359.5,802.6 L359.1,802.2 L358.7,801.9 L358.4,801.5 L358.2,801" fill="none" stroke="#000" stroke-width="2.6" stroke-linecap="round"/>
<path d="M143.3,945 L249.7,914 L253.7,909.3 L480,846.7 L485,843.3 L584.5,811 L588,812.5 L593,831 L607,842.5 L603,844.5 L520,869 L518,871.5 L276.7,937 L164.3,961.3 Z" fill="#fff" stroke="#000" stroke-width="2.8" stroke-linejoin="round" />
<path d="M597,839.5 L520,863.5 L516,866.5 L279,931.5 L186,947.5" fill="none" stroke="#000" stroke-width="2.2" stroke-linejoin="round" />
<path d="M152,946.5 L166,956 L181,952 L188,946.5" fill="none" stroke="#000" stroke-width="2" stroke-linejoin="round" />
<path d="M190,950.5 L278,934.5" fill="none" stroke="#000" stroke-width="1.8" stroke-linejoin="round" />
<ellipse cx="373" cy="890" rx="7" ry="4" fill="none" stroke="#000" stroke-width="2.4" />
<path d="M343.5,946.5 L343.5,951.5 A29,16 0 0 0 401.5,951.5 L401.5,946.5 A29,16 0 0 0 343.5,946.5 Z" fill="#fff" stroke="#000" stroke-width="3"/>
<ellipse cx="372.5" cy="946.5" rx="29" ry="16" fill="#fff" stroke="#000" stroke-width="3" />
<ellipse cx="372.5" cy="946.5" rx="0.3" ry="0.2" fill="none" stroke="#000" stroke-width="3" />
<ellipse cx="373.2" cy="950" rx="10.7" ry="7.5" fill="#000" stroke="#000" stroke-width="2" />
<rect x="369" y="946" width="9" height="2.2" fill="#fff"/>
<rect x="369" y="951" width="8" height="2" fill="#fff"/>
<path d="M385.5,959.1 L384.9,959.3 L384.3,959.5 L383.7,959.6 L383.1,959.8 L382.4,959.9 L381.8,960.1 L381.2,960.2 L380.5,960.3 L379.9,960.4 L379.2,960.5 L378.6,960.6 L377.9,960.7 L377.2,960.8 L376.6,960.8 L375.9,960.9 L375.2,960.9 L374.5,961 L373.9,961 L373.2,961 L372.5,961 L371.8,961 L371.1,961 L370.5,961 L369.8,960.9 L369.1,960.9 L368.4,960.8 L367.8,960.8 L367.1,960.7 L366.4,960.6 L365.8,960.5 L365.1,960.4 L364.5,960.3 L363.8,960.2 L363.2,960.1 L362.6,959.9 L361.9,959.8 L361.3,959.6 L360.7,959.5 L360.1,959.3 L359.5,959.1" fill="none" stroke="#fff" stroke-width="1.5" stroke-linecap="round"/>
<rect x="364.6" y="972" width="21" height="24" rx="6" fill="#000"/>
<rect x="369" y="977" width="12" height="2.2" fill="#fff"/>
<rect x="369" y="983" width="12" height="2.2" fill="#fff"/>
<rect x="369" y="989" width="12" height="2.2" fill="#fff"/>
<path d="M368.3,995 L385.1,995 Q391.7,996.5 391.7,1003.4 L391.7,1010.9 Q390.2,1018.3 376.7,1018.3 Q363.2,1018.3 361.7,1010.9 L361.7,1003.4 Q361.7,996.5 368.3,995 Z" fill="#000"/>
<path d="M371.3,1000.9 L382.7,1000.9 L380.6,1003.9 L373.1,1003.9 Z" fill="#fff"/>
<rect x="365.9" y="1000.4" width="2.1" height="3.7" rx="1" fill="#fff"/>
<rect x="385.7" y="999.9" width="1.8" height="2.5" fill="#fff"/>
<path d="M365.9,1007.9 L370.4,1008.4 L370.4,1013.3 L367.7,1013.3 L365.9,1011.4 Z" fill="#fff"/>
<rect x="374.3" y="1009.4" width="6.3" height="5" fill="#fff"/>
<path d="M383.6,1008.4 L387.5,1007.1 L387.5,1010.9 L385.1,1012.8 L383.6,1012.8 Z" fill="#fff"/>
<path d="M410.5,394.5 L410.5,404 A11.5,5.5 0 0 0 433.5,404 L433.5,394.5 A11.5,5.5 0 0 0 410.5,394.5 Z" fill="#fff" stroke="#000" stroke-width="2.6" stroke-linejoin="round"/>
<ellipse cx="422" cy="394.5" rx="11.5" ry="5.5" fill="#fff" stroke="#000" stroke-width="2.6" />
<line x1="417.4" y1="400" x2="417.4" y2="408.4" stroke="#000" stroke-width="2.08" />
<line x1="426.6" y1="400" x2="426.6" y2="408.4" stroke="#000" stroke-width="2.08" />
<path d="M415,409.5 L415,426 Q422,431 429,426 L429,409.5" fill="#fff" stroke="#000" stroke-width="2.6"/>
<line x1="415" y1="413.5" x2="429" y2="414.5" stroke="#000" stroke-width="2.8600000000000003" />
<line x1="415" y1="419.8" x2="429" y2="420.8" stroke="#000" stroke-width="2.8600000000000003" />
<line x1="415" y1="426" x2="429" y2="427" stroke="#000" stroke-width="2.8600000000000003" />
<path d="M408,443 L408,446.5 A14.5,8.5 0 0 0 437,446.5 L437,443 Z" fill="#000" stroke="#000" stroke-width="2.6"/>
<ellipse cx="422.5" cy="443" rx="14.5" ry="8.5" fill="#000" stroke="#000" stroke-width="2.6" />
<path d="M416,441.7 L429,441.7 L427.4,445.6 L417.6,445.6 Z" fill="#fff"/>
<path d="M410.9,447.7 Q422.5,453.6 434.1,447.7" fill="none" stroke="#fff" stroke-width="1.6"/>
<path d="M416.8,465.9 L429.2,465.9 Q434,467.1 434,472.8 L434,478.9 Q432.9,485 423,485 Q413.1,485 412,478.9 L412,472.8 Q412,467.1 416.8,465.9 Z" fill="#000"/>
<path d="M419,470.8 L427.4,470.8 L425.9,473.2 L420.4,473.2 Z" fill="#fff"/>
<rect x="415.1" y="470.4" width="1.5" height="3" rx="1" fill="#fff"/>
<rect x="429.6" y="470" width="1.3" height="2" fill="#fff"/>
<path d="M415.1,476.5 L418.4,476.9 L418.4,480.9 L416.4,480.9 L415.1,479.3 Z" fill="#fff"/>
<rect x="421.2" y="477.7" width="4.6" height="4.1" fill="#fff"/>
<path d="M428.1,476.9 L430.9,475.9 L430.9,478.9 L429.2,480.5 L428.1,480.5 Z" fill="#fff"/>
<path d="M513,353 L513,377 A15.5,6 0 0 0 544,377 L544,353 A15.5,6 0 0 0 513,353 Z" fill="#fff" stroke="#000" stroke-width="2.8" stroke-linejoin="round"/>
<ellipse cx="528.5" cy="353" rx="15.5" ry="6" fill="#fff" stroke="#000" stroke-width="2.8" />
<path d="M518,339 L518,351 A11,5 0 0 0 540,351 L540,339 A11,5 0 0 0 518,339 Z" fill="#fff" stroke="#000" stroke-width="2.8" stroke-linejoin="round"/>
<ellipse cx="529" cy="339" rx="11" ry="5" fill="#fff" stroke="#000" stroke-width="2.8" />
<path d="M694,364 L694,389 A15,6 0 0 0 724,389 L724,364 A15,6 0 0 0 694,364 Z" fill="#fff" stroke="#000" stroke-width="2.8" stroke-linejoin="round"/>
<ellipse cx="709" cy="364" rx="15" ry="6" fill="#fff" stroke="#000" stroke-width="2.8" />
<path d="M700.5,350 L700.5,362 A8.5,4 0 0 0 717.5,362 L717.5,350 A8.5,4 0 0 0 700.5,350 Z" fill="#fff" stroke="#000" stroke-width="2.8" stroke-linejoin="round"/>
<ellipse cx="709" cy="350" rx="8.5" ry="4" fill="#fff" stroke="#000" stroke-width="2.8" />
<path d="M520.6,397.1 L537.4,397.1 Q544,398.7 544,406.1 L544,414.1 Q542.5,422 529,422 Q515.5,422 514,414.1 L514,406.1 Q514,398.7 520.6,397.1 Z" fill="#000"/>
<path d="M523.6,403.4 L535,403.4 L532.9,406.6 L525.4,406.6 Z" fill="#fff"/>
<rect x="518.2" y="402.9" width="2.1" height="4" rx="1" fill="#fff"/>
<rect x="538" y="402.4" width="1.8" height="2.7" fill="#fff"/>
<path d="M518.2,410.9 L522.7,411.4 L522.7,416.7 L520,416.7 L518.2,414.6 Z" fill="#fff"/>
<rect x="526.6" y="412.5" width="6.3" height="5.3" fill="#fff"/>
<path d="M535.9,411.4 L539.8,410.1 L539.8,414.1 L537.4,416.2 L535.9,416.2 Z" fill="#fff"/>
<path d="M700.3,407.7 L716.2,407.7 Q722.5,409.4 722.5,417.2 L722.5,425.6 Q721.1,434 708.2,434 Q695.4,434 694,425.6 L694,417.2 Q694,409.4 700.3,407.7 Z" fill="#000"/>
<path d="M703.1,414.4 L714,414.4 L712,417.8 L704.8,417.8 Z" fill="#fff"/>
<rect x="698" y="413.8" width="2" height="4.2" rx="1" fill="#fff"/>
<rect x="716.8" y="413.3" width="1.7" height="2.8" fill="#fff"/>
<path d="M698,422.2 L702.3,422.8 L702.3,428.4 L699.7,428.4 L698,426.2 Z" fill="#fff"/>
<rect x="706" y="423.9" width="6" height="5.6" fill="#fff"/>
<path d="M714.8,422.8 L718.5,421.4 L718.5,425.6 L716.2,427.8 L714.8,427.8 Z" fill="#fff"/>
<path d="M528,544 L528,558 A14.5,6.5 0 0 0 557,558 L557,544 A14.5,6.5 0 0 0 528,544 Z" fill="#fff" stroke="#000" stroke-width="2.8" stroke-linejoin="round"/>
<ellipse cx="542.5" cy="544" rx="14.5" ry="6.5" fill="#fff" stroke="#000" stroke-width="2.8" />
<ellipse cx="542.5" cy="544.5" rx="9" ry="3.8" fill="none" stroke="#000" stroke-width="3.6" />
<path d="M1017,454 L1017,467 A9.8,5 0 0 0 1036.5,467 L1036.5,454 A9.8,5 0 0 0 1017,454 Z" fill="#fff" stroke="#000" stroke-width="3.2" stroke-linejoin="round"/>
<ellipse cx="1026.8" cy="454" rx="9.8" ry="5" fill="#fff" stroke="#000" stroke-width="3.2" />
<ellipse cx="1026.8" cy="454" rx="9.8" ry="5" fill="#000" stroke="#000" stroke-width="3.2" />
<rect x="1023" y="452" width="7" height="3" fill="#fff"/>
<path d="M1035.9,459.7 L1035.7,459.9 L1035.5,460.2 L1035.3,460.5 L1035,460.8 L1034.6,461 L1034.3,461.2 L1033.9,461.5 L1033.5,461.7 L1033,461.9 L1032.5,462.1 L1032,462.2 L1031.5,462.4 L1031,462.5 L1030.4,462.7 L1029.8,462.8 L1029.2,462.8 L1028.6,462.9 L1028,463 L1027.4,463 L1026.8,463 L1026.1,463 L1025.5,463 L1024.9,462.9 L1024.3,462.8 L1023.7,462.8 L1023.1,462.7 L1022.5,462.5 L1022,462.4 L1021.5,462.2 L1021,462.1 L1020.5,461.9 L1020,461.7 L1019.6,461.5 L1019.2,461.2 L1018.9,461 L1018.5,460.8 L1018.2,460.5 L1018,460.2 L1017.8,459.9 L1017.6,459.7" fill="none" stroke="#000" stroke-width="3" stroke-linecap="round"/>
<path d="M960.6,488.3 L975.4,488.3 Q981.2,489.9 981.2,497.6 L981.2,505.9 Q979.9,514.2 968,514.2 Q956.1,514.2 954.8,505.9 L954.8,497.6 Q954.8,489.9 960.6,488.3 Z" fill="#000"/>
<path d="M963.2,494.9 L973.3,494.9 L971.4,498.2 L964.8,498.2 Z" fill="#fff"/>
<rect x="958.5" y="494.3" width="1.8" height="4.1" rx="1" fill="#fff"/>
<rect x="975.9" y="493.8" width="1.6" height="2.8" fill="#fff"/>
<path d="M958.5,502.6 L962.5,503.2 L962.5,508.7 L960.1,508.7 L958.5,506.5 Z" fill="#fff"/>
<rect x="965.9" y="504.3" width="5.5" height="5.5" fill="#fff"/>
<path d="M974.1,503.2 L977.5,501.8 L977.5,505.9 L975.4,508.1 L974.1,508.1 Z" fill="#fff"/>
<path d="M956,526 L956,532 A13.2,7 0 0 0 982.5,532 L982.5,526 Z" fill="#000" stroke="#000" stroke-width="2.6"/>
<ellipse cx="969.2" cy="526" rx="13.2" ry="7.5" fill="#000" stroke="#000" stroke-width="2.6" />
<path d="M962,526.5 L976,526.5 L973.5,529.5 L964.5,529.5 Z" fill="#fff"/>
<path d="M978.7,532.8 L978.4,533.1 L978.2,533.4 L977.8,533.6 L977.5,533.9 L977.1,534.1 L976.7,534.4 L976.3,534.6 L975.8,534.8 L975.3,535 L974.8,535.1 L974.3,535.3 L973.8,535.4 L973.3,535.6 L972.7,535.7 L972.1,535.8 L971.6,535.9 L971,535.9 L970.4,536 L969.8,536 L969.2,536 L968.6,536 L968,536 L967.4,535.9 L966.8,535.9 L966.3,535.8 L965.7,535.7 L965.1,535.6 L964.6,535.4 L964.1,535.3 L963.6,535.1 L963.1,535 L962.6,534.8 L962.1,534.6 L961.7,534.4 L961.3,534.1 L960.9,533.9 L960.6,533.6 L960.2,533.4 L960,533.1 L959.7,532.8" fill="none" stroke="#fff" stroke-width="1.8" stroke-linecap="round"/>
<path d="M958.5,560 L958.5,574 L977.5,574 L977.5,560" fill="#fff" stroke="#000" stroke-width="2.8" stroke-linejoin="round" />
<path d="M977.5,574 L977.5,574.4 L977.4,574.7 L977.2,575.1 L977,575.4 L976.8,575.7 L976.5,576 L976.1,576.4 L975.7,576.6 L975.2,576.9 L974.7,577.2 L974.2,577.4 L973.6,577.6 L973,577.8 L972.3,578 L971.6,578.2 L970.9,578.3 L970.2,578.4 L969.5,578.4 L968.7,578.5 L968,578.5 L967.3,578.5 L966.5,578.4 L965.8,578.4 L965.1,578.3 L964.4,578.2 L963.7,578 L963,577.8 L962.4,577.6 L961.8,577.4 L961.3,577.2 L960.8,576.9 L960.3,576.6 L959.9,576.4 L959.5,576 L959.2,575.7 L959,575.4 L958.8,575.1 L958.6,574.7 L958.5,574.4 L958.5,574" fill="none" stroke="#000" stroke-width="2.8" stroke-linecap="round"/>
<path d="M955,551 C955,542 962,543 968.5,543 C975,543 982.5,542 982.5,551 L982.5,558 C982.5,565 976,566 968.5,566 C961,566 955,565 955,558 Z" fill="#000"/>
<path d="M962,548 L975,548 L972.5,551.5 L964.5,551.5 Z" fill="#fff"/>
<path d="M978.5,558.1 L978.2,558.4 L977.9,558.6 L977.5,558.8 L977.2,559.1 L976.8,559.3 L976.3,559.5 L975.9,559.7 L975.4,559.9 L974.9,560.1 L974.4,560.2 L973.9,560.4 L973.3,560.5 L972.8,560.6 L972.2,560.7 L971.6,560.8 L971,560.9 L970.4,560.9 L969.7,561 L969.1,561 L968.5,561 L967.9,561 L967.3,561 L966.6,560.9 L966,560.9 L965.4,560.8 L964.8,560.7 L964.2,560.6 L963.7,560.5 L963.1,560.4 L962.6,560.2 L962.1,560.1 L961.6,559.9 L961.1,559.7 L960.7,559.5 L960.2,559.3 L959.8,559.1 L959.5,558.8 L959.1,558.6 L958.8,558.4 L958.5,558.1" fill="none" stroke="#fff" stroke-width="1.6" stroke-linecap="round"/>
<path d="M993.5,541 L993.5,546 A16,8 0 0 0 1025.5,546 L1025.5,541 A16,8 0 0 0 993.5,541 Z" fill="#fff" stroke="#000" stroke-width="3"/>
<ellipse cx="1009.5" cy="541" rx="16" ry="8" fill="#fff" stroke="#000" stroke-width="3" />
<ellipse cx="1009.5" cy="541" rx="0.2" ry="0.1" fill="none" stroke="#000" stroke-width="3" />
<ellipse cx="1009.3" cy="541.3" rx="9" ry="4.6" fill="#000" stroke="#000" stroke-width="2" />
<circle cx="1009.5" cy="540" r="1.3" fill="#fff"/>
<path d="M987,614 L1007.8,609.7 C1012,605 1014,596 1018.2,591.5 C1026,586 1034,584 1042.5,583.7 L1056.3,583.7 C1062,585 1066,588 1066.7,592.3 L1067.6,606.2 C1060,611 1052,613 1046,614.9 C1042,619 1039,623 1037.3,629" fill="#fff" stroke="#000" stroke-width="2.8" stroke-linejoin="round" stroke-linecap="round" />
<path d="M1031,627 C1034,620 1037,615 1040.7,612.3 C1048,608 1056,606 1063,603.6" fill="none" stroke="#000" stroke-width="2" stroke-linejoin="round" stroke-linecap="round" />
<ellipse cx="1050.3" cy="594" rx="6" ry="4" fill="none" stroke="#000" stroke-width="2.6" />
<path d="M950,627 C942,629 940,640 944,646 C950,652 962,652 972,651.5 L995,648 L998,630 Z" fill="#fff" stroke="#000" stroke-width="2.8" stroke-linejoin="round" stroke-linecap="round" />
<path d="M960.4,649 L959.8,648.9 L959.2,648.9 L958.6,648.8 L958,648.8 L957.3,648.7 L956.7,648.6 L956.1,648.5 L955.5,648.4 L955,648.3 L954.4,648.2 L953.8,648 L953.3,647.9 L952.7,647.7 L952.2,647.5 L951.7,647.4 L951.2,647.2 L950.7,647 L950.2,646.8 L949.7,646.6 L949.3,646.4 L948.8,646.1 L948.4,645.9 L948,645.7 L947.6,645.4 L947.3,645.2 L946.9,644.9 L946.6,644.6 L946.3,644.4 L946,644.1 L945.7,643.8 L945.4,643.5 L945.2,643.2 L945,642.9 L944.8,642.6 L944.6,642.3 L944.5,642 L944.3,641.7 L944.2,641.4 L944.1,641.1 L944.1,640.8" fill="none" stroke="#000" stroke-width="2" stroke-linecap="round"/>
<path d="M986,624.4 L1177.6,651.3 L1174,667 L986,637.4 Z" fill="#fff" stroke="#000" stroke-width="2.8" stroke-linejoin="round" />
<line x1="990" y1="632.5" x2="1172" y2="660.5" stroke="#000" stroke-width="2" />
<line x1="1000" y1="640.5" x2="1170" y2="665.5" stroke="#000" stroke-width="2.6" />
<ellipse cx="1177.6" cy="659" rx="9.5" ry="8.5" fill="#fff" stroke="#000" stroke-width="4" />
<ellipse cx="1177.6" cy="659" rx="4" ry="3.5" fill="none" stroke="#000" stroke-width="2.8" />
<path d="M955,611 L955,635 A16,7.5 0 0 0 987,635 L987,611 A16,7.5 0 0 0 955,611 Z" fill="#fff" stroke="#000" stroke-width="2.8" stroke-linejoin="round"/>
<ellipse cx="971" cy="611" rx="16" ry="7.5" fill="#fff" stroke="#000" stroke-width="2.8" />
<ellipse cx="971" cy="611" rx="16" ry="7.5" fill="#000" stroke="#000" stroke-width="2.8" />
<rect x="963" y="609.5" width="16" height="3" fill="#fff"/>
<path d="M986,616.8 L985.7,617.3 L985.3,617.7 L984.9,618.1 L984.4,618.5 L983.9,618.9 L983.3,619.3 L982.7,619.6 L982,619.9 L981.2,620.3 L980.4,620.6 L979.6,620.8 L978.8,621.1 L977.9,621.3 L976.9,621.5 L976,621.6 L975,621.8 L974,621.9 L973,621.9 L972,622 L971,622 L970,622 L969,621.9 L968,621.9 L967,621.8 L966,621.6 L965.1,621.5 L964.1,621.3 L963.2,621.1 L962.4,620.8 L961.6,620.6 L960.8,620.3 L960,619.9 L959.3,619.6 L958.7,619.3 L958.1,618.9 L957.6,618.5 L957.1,618.1 L956.7,617.7 L956.3,617.3 L956,616.8" fill="none" stroke="#000" stroke-width="2.6" stroke-linecap="round"/>
<ellipse cx="975.7" cy="628.7" rx="4" ry="4" fill="none" stroke="#000" stroke-width="2.6" />
<g transform="rotate(38 1031 668)"><rect x="1013" y="662.5" width="22" height="11" rx="3" fill="#fff" stroke="#000" stroke-width="2.8"/><line x1="1018" y1="662.5" x2="1018" y2="673.5" stroke="#000" stroke-width="2.4"/><line x1="1023" y1="662.5" x2="1023" y2="673.5" stroke="#000" stroke-width="2.4"/><line x1="1028" y1="662.5" x2="1028" y2="673.5" stroke="#000" stroke-width="2.4"/><rect x="1034" y="659" width="14" height="18" rx="4" fill="#000"/><rect x="1038" y="662" width="3" height="5" fill="#fff"/><rect x="1041" y="669" width="4" height="4" fill="#fff"/></g>
<path d="M959.4,668.5 L959.4,702 A10.1,4.6 0 0 0 979.6,702 L979.6,668.5 A10.1,4.6 0 0 0 959.4,668.5 Z" fill="#fff" stroke="#000" stroke-width="2.8" stroke-linejoin="round"/>
<ellipse cx="969.5" cy="668.5" rx="10.1" ry="4.6" fill="#fff" stroke="#000" stroke-width="2.8" />
<ellipse cx="969.5" cy="668.5" rx="10.1" ry="4.6" fill="#000" stroke="#000" stroke-width="2.8" />
<rect x="966.5" y="667" width="6" height="2.5" fill="#fff"/>
<path d="M979.2,672.7 L979,673 L978.8,673.3 L978.6,673.6 L978.3,673.8 L978,674.1 L977.6,674.3 L977.2,674.6 L976.8,674.8 L976.3,675 L975.8,675.2 L975.3,675.4 L974.7,675.6 L974.1,675.7 L973.5,675.8 L972.9,675.9 L972.2,676 L971.5,676.1 L970.9,676.2 L970.2,676.2 L969.5,676.2 L968.8,676.2 L968.1,676.2 L967.5,676.1 L966.8,676 L966.1,675.9 L965.5,675.8 L964.9,675.7 L964.3,675.6 L963.7,675.4 L963.2,675.2 L962.7,675 L962.2,674.8 L961.8,674.6 L961.4,674.3 L961,674.1 L960.7,673.8 L960.4,673.6 L960.2,673.3 L960,673 L959.8,672.7" fill="none" stroke="#000" stroke-width="3" stroke-linecap="round"/>
<path d="M957.7,749 L957.7,757 A13.8,6 0 0 0 985.3,757 L985.3,749 A13.8,6 0 0 0 957.7,749 Z" fill="#fff" stroke="#000" stroke-width="2.8" stroke-linejoin="round"/>
<ellipse cx="971.5" cy="749" rx="13.8" ry="6" fill="#fff" stroke="#000" stroke-width="2.8" />
<path d="M984.8,753 L984.6,753.5 L984.3,753.9 L984,754.2 L983.6,754.6 L983.2,755 L982.7,755.4 L982.1,755.7 L981.5,756 L980.9,756.3 L980.2,756.6 L979.4,756.9 L978.7,757.1 L977.8,757.3 L977,757.5 L976.1,757.6 L975.2,757.8 L974.3,757.9 L973.4,757.9 L972.4,758 L971.5,758 L970.6,758 L969.6,757.9 L968.7,757.9 L967.8,757.8 L966.9,757.6 L966,757.5 L965.2,757.3 L964.3,757.1 L963.6,756.9 L962.8,756.6 L962.1,756.3 L961.5,756 L960.9,755.7 L960.3,755.4 L959.8,755 L959.4,754.6 L959,754.2 L958.7,753.9 L958.4,753.5 L958.2,753" fill="none" stroke="#000" stroke-width="2" stroke-linecap="round"/>
<path d="M961.9,727 L961.9,745.5 A9.3,4.8 0 0 0 980.5,745.5 L980.5,727 A9.3,4.8 0 0 0 961.9,727 Z" fill="#fff" stroke="#000" stroke-width="2.8" stroke-linejoin="round"/>
<ellipse cx="971.2" cy="727" rx="9.3" ry="4.8" fill="#fff" stroke="#000" stroke-width="2.8" />
<ellipse cx="971.2" cy="727" rx="5" ry="2.2" fill="none" stroke="#000" stroke-width="2.4" />
<path d="M962.6,773.5 L962.6,799.5 A9,4.5 0 0 0 980.6,799.5 L980.6,773.5 A9,4.5 0 0 0 962.6,773.5 Z" fill="#fff" stroke="#000" stroke-width="2.8" stroke-linejoin="round"/>
<ellipse cx="971.6" cy="773.5" rx="9" ry="4.5" fill="#fff" stroke="#000" stroke-width="2.8" />
<line x1="962.6" y1="781" x2="980.6" y2="779.5" stroke="#000" stroke-width="2.6" />
<line x1="962.6" y1="787" x2="980.6" y2="785.5" stroke="#000" stroke-width="2.6" />
<line x1="962.6" y1="793" x2="980.6" y2="791.5" stroke="#000" stroke-width="2.6" />
<path d="M963.8,798.4 L979.2,798.4 Q985.3,799.7 985.3,806 L985.3,812.8 Q983.9,819.5 971.5,819.5 Q959.2,819.5 957.8,812.8 L957.8,806 Q957.8,799.7 963.8,798.4 Z" fill="#000"/>
<path d="M966.6,803.8 L977,803.8 L975.1,806.5 L968.2,806.5 Z" fill="#fff"/>
<rect x="961.6" y="803.3" width="1.9" height="3.4" rx="1" fill="#fff"/>
<rect x="979.8" y="802.9" width="1.6" height="2.2" fill="#fff"/>
<path d="M961.6,810 L965.8,810.5 L965.8,815 L963.3,815 L961.6,813.2 Z" fill="#fff"/>
<rect x="969.3" y="811.4" width="5.8" height="4.5" fill="#fff"/>
<path d="M977.9,810.5 L981.4,809.4 L981.4,812.8 L979.2,814.5 L977.9,814.5 Z" fill="#fff"/>
<path d="M1030.5,717.9 L1030.5,726.3 A12.8,6.4 0 0 0 1056,726.3 L1056,717.9 A12.8,6.4 0 0 0 1030.5,717.9 Z" fill="#fff" stroke="#000" stroke-width="3.2" stroke-linejoin="round"/>
<ellipse cx="1043.2" cy="717.9" rx="12.8" ry="6.4" fill="#fff" stroke="#000" stroke-width="3.2" />
<line x1="1038.4" y1="723.6" x2="1038.4" y2="732.2" stroke="#000" stroke-width="2.5600000000000005" />
<line x1="1048.1" y1="723.6" x2="1048.1" y2="732.2" stroke="#000" stroke-width="2.5600000000000005" />
<ellipse cx="1043.2" cy="717" rx="6.5" ry="3" fill="#000" stroke="#000" stroke-width="3" />
<path d="M1269.7,616.5 L1342.8,561.4 L1360.8,579.4 L1282.1,637.8 Z" fill="#000" stroke="#000" stroke-width="2.5" stroke-linejoin="round" />
<path d="M1275.7,614.5 Q1276.6,625.7 1286.5,628.8" fill="none" stroke="#fff" stroke-width="2.6" stroke-linecap="round"/>
<path d="M1282.6,609.3 Q1283.5,620.5 1293.4,623.7" fill="none" stroke="#fff" stroke-width="2.6" stroke-linecap="round"/>
<path d="M1289.4,604.1 Q1290.3,615.3 1300.3,618.5" fill="none" stroke="#fff" stroke-width="2.6" stroke-linecap="round"/>
<path d="M1296.3,599 Q1297.2,610.1 1307.1,613.3" fill="none" stroke="#fff" stroke-width="2.6" stroke-linecap="round"/>
<path d="M1303.1,593.8 Q1304.1,605 1314,608.1" fill="none" stroke="#fff" stroke-width="2.6" stroke-linecap="round"/>
<path d="M1310,588.6 Q1310.9,599.8 1320.8,603" fill="none" stroke="#fff" stroke-width="2.6" stroke-linecap="round"/>
<path d="M1316.9,583.4 Q1317.8,594.6 1327.7,597.8" fill="none" stroke="#fff" stroke-width="2.6" stroke-linecap="round"/>
<path d="M1323.7,578.2 Q1324.7,589.4 1334.6,592.6" fill="none" stroke="#fff" stroke-width="2.6" stroke-linecap="round"/>
<path d="M1330.6,573.1 Q1331.5,584.3 1341.4,587.4" fill="none" stroke="#fff" stroke-width="2.6" stroke-linecap="round"/>
<path d="M1337.5,567.9 Q1338.4,579.1 1348.3,582.3" fill="none" stroke="#fff" stroke-width="2.6" stroke-linecap="round"/>
<path d="M1344.3,562.7 Q1345.3,573.9 1355.2,577.1" fill="none" stroke="#fff" stroke-width="2.6" stroke-linecap="round"/>
<path d="M1271,621 L1257,634 C1251,641 1253,651 1259,654 C1265,657 1272,654 1273,648" fill="none" stroke="#000" stroke-width="6.5" stroke-linejoin="round" stroke-linecap="round" />
<path d="M1271,621 L1257,634 C1251,641 1253,651 1259,654 C1265,657 1272,654 1273,648" fill="none" stroke="#fff" stroke-width="2.0" stroke-linejoin="round" stroke-linecap="round" />
<path d="M1343,566 L1358,553 C1364,548 1375,547 1380,553 C1385,559 1382,567 1374,567" fill="none" stroke="#000" stroke-width="6.5" stroke-linejoin="round" stroke-linecap="round" />
<path d="M1343,566 L1358,553 C1364,548 1375,547 1380,553 C1385,559 1382,567 1374,567" fill="none" stroke="#fff" stroke-width="2.0" stroke-linejoin="round" stroke-linecap="round" />
<path d="M1401.6,612.8 L1401.6,577.8 C1403,568 1408,560 1413.3,557 L1425,559.3 L1429,561 L1429,591.3 L1459.1,596.7 L1459.1,608.3 L1449.2,621.8 L1436.7,622.7 L1404.3,613.7 Z" fill="#fff" stroke="#000" stroke-width="3" stroke-linejoin="round" stroke-linecap="round" />
<path d="M1407,611 L1407,582 C1408,572 1411,565 1414.2,561.6" fill="none" stroke="#000" stroke-width="2.2" stroke-linejoin="round" stroke-linecap="round" />
<path d="M1429,591.3 L1412.4,604.7 L1412.4,610" fill="none" stroke="#000" stroke-width="2.6" stroke-linejoin="round" stroke-linecap="round" />
<path d="M1416,611.5 L1447,617.5 L1458,608.5" fill="none" stroke="#000" stroke-width="2" stroke-linejoin="round" stroke-linecap="round" />
<ellipse cx="1418.7" cy="579.6" rx="4.8" ry="9.5" fill="#fff" stroke="#000" stroke-width="3" transform="rotate(18 1418.7 579.6)"/>
<path d="M1430,600.5 L1446.5,601.5 L1443,611 L1427.5,610 Z" fill="#000"/>
<rect x="1434" y="604" width="3" height="2.5" fill="#fff"/><rect x="1438.5" y="606" width="2.5" height="2" fill="#fff"/>
<circle cx="53" cy="252.5" r="1.3" fill="#000"/>
</svg>
</body></html>
